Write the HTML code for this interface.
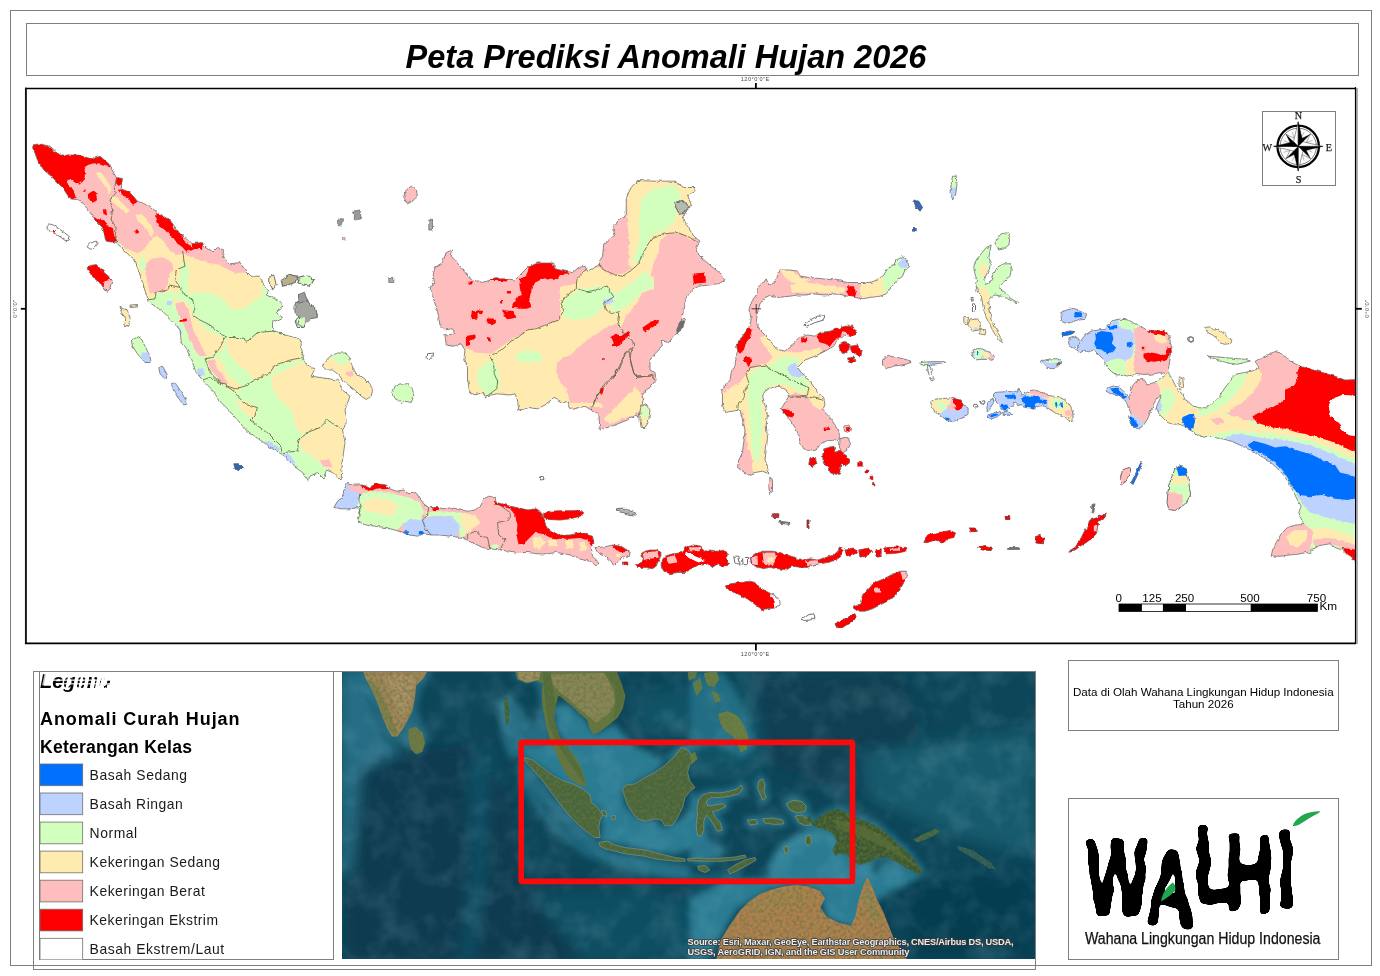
<!DOCTYPE html>
<html lang="id">
<head>
<meta charset="utf-8">
<title>Peta Prediksi Anomali Hujan 2026</title>
<style>
html,body{margin:0;padding:0;background:#fff;}
body{width:1380px;height:976px;overflow:hidden;position:relative;font-family:"Liberation Sans",sans-serif;}
svg{position:absolute;left:0;top:0;display:block;}
text{font-family:"Liberation Sans",sans-serif;fill:#000;}
.serif{font-family:"Liberation Serif",serif;}
.fr{fill:none;stroke:#7f7f7f;stroke-width:1;shape-rendering:crispEdges;}
.lg{font-size:13.9px;fill:#1a1a1a;}
.sb{font-size:11.6px;text-anchor:middle;}
</style>
</head>
<body>
<svg width="1380" height="976" viewBox="0 0 1380 976">

<!-- 10_frames.svg -->
<g id="frames">
<rect x="0" y="0" width="1380" height="976" fill="#fff"/>
<!-- outer frame -->
<rect class="fr" x="10.5" y="10.5" width="1361" height="955"/>
<!-- title box -->
<rect class="fr" x="26.5" y="23.5" width="1332" height="52"/>
<!-- legend + inset frame -->
<rect class="fr" x="33.5" y="671.5" width="1002" height="298" fill="#fff"/>
<rect class="fr" x="39.5" y="671.5" width="294" height="288"/>
<!-- info box -->
<rect class="fr" x="1068.5" y="660.5" width="270" height="70"/>
<!-- logo box -->
<rect class="fr" x="1068.5" y="798.5" width="270" height="161"/>
<!-- map frame -->
<rect x="25.9" y="88" width="1329.6" height="555.2" fill="#fff"/>
<line x1="1357" y1="88" x2="1357" y2="644" stroke="#9a9a9a" stroke-width="1.6"/>
<line x1="25" y1="88.5" x2="1356" y2="88.5" stroke="#000" stroke-width="1.5"/>
<line x1="25.9" y1="87.8" x2="25.9" y2="644" stroke="#111" stroke-width="1.9"/>
<line x1="25" y1="643.4" x2="1356" y2="643.4" stroke="#000" stroke-width="1.6"/>
<line x1="1355.5" y1="87" x2="1355.5" y2="644" stroke="#000" stroke-width="1.2"/>
</g>
<text x="666" y="68" text-anchor="middle" font-size="32.5" font-weight="bold" font-style="italic" id="title">Peta Prediksi Anomali Hujan 2026</text>

<!-- 20_map.svg -->
<filter id="rough" x="0" y="0" width="100%" height="100%" filterUnits="userSpaceOnUse" primitiveUnits="userSpaceOnUse"><feTurbulence type="fractalNoise" baseFrequency="0.22" numOctaves="2" seed="3" result="t"/><feDisplacementMap in="SourceGraphic" in2="t" scale="3.2" xChannelSelector="R" yChannelSelector="G" result="d"/><feOffset in="d" dx="0" dy="0"/></filter>
<g id="mainmap" clip-path="url(#mapclip)"><g filter="url(#rough)">
<clipPath id="mapclip"><rect x="27" y="89" width="1328" height="553.5"/></clipPath>
<clipPath id="c_sumatra"><path d="M33.8 145.0 L38.8 143.8 L50.0 146.2 L60.0 155.0 L77.5 155.0 L92.5 158.8 L100.0 156.2 L108.8 163.8 L116.2 177.5 L122.5 178.8 L121.2 188.8 L130.0 192.5 L137.5 201.2 L150.0 206.2 L158.8 213.8 L170.0 220.0 L180.0 233.8 L192.5 243.8 L202.5 242.5 L203.8 246.2 L212.5 252.5 L217.5 247.5 L223.8 250.0 L222.5 257.5 L230.0 263.8 L240.0 262.5 L245.0 270.0 L251.2 276.2 L260.0 276.2 L263.8 285.0 L268.8 290.0 L266.2 295.0 L277.5 300.0 L283.8 306.2 L276.2 312.5 L282.5 317.5 L272.5 322.5 L272.5 330.0 L285.0 335.0 L300.0 338.8 L303.8 360.0 L307.5 366.2 L315.0 368.8 L311.2 376.2 L337.5 380.0 L342.5 390.0 L350.0 396.2 L345.0 410.0 L347.5 422.5 L342.5 430.0 L345.0 442.5 L342.5 460.0 L341.2 480.0 L332.5 472.5 L326.2 470.0 L323.8 478.8 L317.5 472.5 L310.0 476.2 L307.5 481.2 L302.5 472.5 L293.8 466.2 L285.0 456.2 L272.5 448.8 L260.0 440.0 L246.2 430.0 L237.5 420.0 L227.5 408.8 L217.5 398.8 L211.2 388.8 L202.5 380.0 L196.2 372.5 L192.5 362.5 L187.5 350.0 L181.2 341.2 L180.0 330.0 L172.5 321.2 L162.5 311.2 L147.5 301.2 L147.5 298.8 L142.5 282.5 L137.5 267.5 L135.0 260.0 L128.8 255.0 L120.0 246.2 L116.2 242.5 L106.2 241.2 L102.5 227.5 L95.0 220.0 L87.5 208.8 L78.8 200.0 L70.0 198.8 L62.5 187.5 L52.5 177.5 L43.8 170.0 L37.5 160.0 L33.8 150.0Z"/></clipPath>
<path d="M33.8 145.0 L38.8 143.8 L50.0 146.2 L60.0 155.0 L77.5 155.0 L92.5 158.8 L100.0 156.2 L108.8 163.8 L116.2 177.5 L122.5 178.8 L121.2 188.8 L130.0 192.5 L137.5 201.2 L150.0 206.2 L158.8 213.8 L170.0 220.0 L180.0 233.8 L192.5 243.8 L202.5 242.5 L203.8 246.2 L212.5 252.5 L217.5 247.5 L223.8 250.0 L222.5 257.5 L230.0 263.8 L240.0 262.5 L245.0 270.0 L251.2 276.2 L260.0 276.2 L263.8 285.0 L268.8 290.0 L266.2 295.0 L277.5 300.0 L283.8 306.2 L276.2 312.5 L282.5 317.5 L272.5 322.5 L272.5 330.0 L285.0 335.0 L300.0 338.8 L303.8 360.0 L307.5 366.2 L315.0 368.8 L311.2 376.2 L337.5 380.0 L342.5 390.0 L350.0 396.2 L345.0 410.0 L347.5 422.5 L342.5 430.0 L345.0 442.5 L342.5 460.0 L341.2 480.0 L332.5 472.5 L326.2 470.0 L323.8 478.8 L317.5 472.5 L310.0 476.2 L307.5 481.2 L302.5 472.5 L293.8 466.2 L285.0 456.2 L272.5 448.8 L260.0 440.0 L246.2 430.0 L237.5 420.0 L227.5 408.8 L217.5 398.8 L211.2 388.8 L202.5 380.0 L196.2 372.5 L192.5 362.5 L187.5 350.0 L181.2 341.2 L180.0 330.0 L172.5 321.2 L162.5 311.2 L147.5 301.2 L147.5 298.8 L142.5 282.5 L137.5 267.5 L135.0 260.0 L128.8 255.0 L120.0 246.2 L116.2 242.5 L106.2 241.2 L102.5 227.5 L95.0 220.0 L87.5 208.8 L78.8 200.0 L70.0 198.8 L62.5 187.5 L52.5 177.5 L43.8 170.0 L37.5 160.0 L33.8 150.0Z" fill="#D3FFBE"/>
<g clip-path="url(#c_sumatra)">
<polygon points="133.4,255.1 139.3,250.0 146.8,243.4 155.1,236.7 161.8,240.0 166.8,246.7 171.8,253.4 178.5,256.7 182.7,260.1 183.5,265.9 175.2,268.4 174.3,280.1 167.6,283.4 170.2,292.6 158.5,293.5 153.4,296.8 148.4,300.2 145.1,293.5 141.8,285.1 138.4,275.1 135.9,263.4" fill="#FFEBAF"/>
<polygon points="186.9,280.1 190.2,270.1 196.9,265.9 206.9,267.6 216.9,266.7 226.9,269.3 233.6,273.4 238.6,280.1 245.3,286.8 255.3,291.8 263.7,296.0 257.0,300.2 250.3,303.5 243.6,308.5 233.6,310.2 226.9,303.5 220.3,296.8 210.2,293.5 200.2,288.5 193.5,285.1" fill="#FFEBAF"/>
<polygon points="173.5,296.8 180.2,300.2 188.5,303.5 193.5,313.5 200.2,323.5 206.9,330.2 213.6,333.6 223.6,336.9 224.4,346.9 216.9,353.6 206.9,358.6 200.2,353.6 195.2,346.9 190.2,338.6 186.9,330.2 181.8,320.2 176.8,310.2 173.5,303.5" fill="#FFEBAF"/>
<polygon points="228.6,336.9 238.6,338.6 247.0,341.9 258.7,333.6 272.0,331.9 283.7,336.9 298.8,340.2 302.1,356.9 290.4,360.3 277.1,363.6 273.7,372.0 267.0,373.6 260.3,367.0 250.3,363.6 243.6,356.9 240.3,350.3 232.0,346.9" fill="#FFEBAF"/>
<polygon points="206.9,360.3 216.9,356.9 223.6,363.6 226.9,373.6 233.6,380.3 243.6,387.0 233.6,392.9 223.6,385.3 215.2,377.0 208.6,368.6" fill="#FFEBAF"/>
<polygon points="225.0,337.5 245.0,342.5 260.0,332.5 282.5,335.0 300.0,340.0 302.5,360.0 275.0,365.0 270.0,375.0 255.0,380.0 245.0,370.0 235.0,362.5 227.5,350.0" fill="#FFEBAF"/>
<polygon points="272.5,375.0 285.0,370.0 302.5,362.5 315.0,370.0 337.5,380.0 350.0,397.5 345.0,410.0 347.5,422.5 342.5,430.0 327.5,420.0 317.5,430.0 302.5,435.0 295.0,425.0 292.5,410.0 280.0,400.0 272.5,387.5" fill="#FFEBAF"/>
<polygon points="297.5,440.0 312.5,432.5 327.5,422.5 342.5,430.0 345.0,442.5 342.5,460.0 341.2,480.0 332.5,472.5 325.0,467.5 317.5,460.0 310.0,455.0 302.5,450.0" fill="#FFEBAF"/>
<polygon points="237.5,400.0 250.0,402.5 257.5,410.0 255.0,420.0 245.0,412.5 237.5,405.0" fill="#FFEBAF"/>
<polygon points="66.6,129.8 216.9,213.3 203.6,243.4 213.6,263.4 226.9,267.6 233.6,265.9 243.6,265.9 247.0,271.8 240.3,269.3 232.0,268.4 225.3,270.9 216.9,267.6 208.6,265.9 200.2,262.6 193.5,263.4 186.9,261.7 182.7,258.4 176.8,255.1 170.2,251.7 166.8,245.9 162.6,240.0 156.8,235.8 150.1,241.7 145.1,248.4 139.3,252.5 133.4,255.1 125.1,248.4 116.7,240.0 49.9,230.0" fill="#FFBEBE"/>
<polygon points="146.8,263.4 153.4,258.4 163.5,259.2 170.2,263.4 173.5,273.4 171.8,281.8 166.8,283.4 163.5,288.5 156.8,285.1 150.1,278.4 145.9,270.9" fill="#FFBEBE"/>
<polygon points="175.2,303.5 183.5,301.8 188.5,310.2 191.0,320.2 193.5,330.2 198.5,340.2 203.6,350.3 206.9,356.9 200.2,356.9 195.2,350.3 191.0,341.9 186.9,331.9 181.8,320.2 176.8,311.8" fill="#FFBEBE"/>
<polygon points="206.9,360.3 215.2,359.4 216.9,368.6 223.6,377.0 228.6,383.7 223.6,385.3 216.9,377.0 210.2,368.6" fill="#FFBEBE"/>
<polygon points="320.0,460.0 330.0,460.0 332.5,467.5 322.5,466.2" fill="#FFBEBE"/>
<polygon points="166.8,301.0 171.0,301.0 171.0,305.2 166.8,305.2" fill="#BED2FF"/>
<polygon points="174.3,323.5 178.5,325.2 182.7,333.6 180.2,334.4 176.0,328.5" fill="#BED2FF"/>
<polygon points="196.9,368.6 204.4,368.6 204.4,376.1 198.5,377.0" fill="#BED2FF"/>
<polygon points="263.8,441.2 272.5,442.5 280.0,448.8 277.5,452.5 270.0,448.8" fill="#BED2FF"/>
<polygon points="282.5,452.5 290.0,455.0 295.0,462.5 292.5,466.2 286.2,460.0" fill="#BED2FF"/>
<polygon points="121.2,246.9 129.6,250.3 139.6,253.6 145.4,246.9 152.9,238.6 158.0,236.9 164.6,243.6 169.6,250.3 176.3,255.3 182.2,253.6 193.0,256.9 206.4,262.0 218.1,263.6 228.1,268.6 243.1,262.0 263.2,272.0 263.2,292.9 126.2,292.9 132.9,263.6 126.2,253.6" fill="#FFEBAF"/>
<polygon points="182.2,253.6 193.0,245.2 203.1,241.9 209.7,249.4 213.1,246.1 225.6,246.9 225.6,258.6 232.3,262.8 244.8,262.0 248.1,272.8 234.8,272.8 228.1,269.5 218.1,264.5 206.4,262.8 193.0,257.8" fill="#FFBEBE"/>
<polygon points="146.3,263.6 152.9,258.6 163.0,256.9 171.3,262.0 173.8,268.6 169.6,275.3 168.0,283.7 163.0,292.9 149.6,292.9 147.1,280.3 145.4,272.0" fill="#FFBEBE"/>
<polygon points="137.9,258.6 142.9,256.9 146.3,263.6 145.4,272.0 141.2,270.3 138.7,263.6" fill="#D3FFBE"/>
<polygon points="181.3,263.6 187.2,262.0 188.9,272.0 188.0,292.9 179.7,292.9 178.8,280.3 180.5,270.3" fill="#D3FFBE"/>
<polygon points="97.0,172.6 100.3,171.8 104.5,176.8 108.7,183.4 111.2,190.1 109.5,194.3 106.2,188.5 102.0,181.8 97.8,176.8" fill="#FFEBAF"/>
<polygon points="110.3,196.8 114.5,196.0 119.5,200.2 124.5,205.2 129.6,211.0 126.2,213.5 120.4,208.5 114.5,203.5 111.2,201.0" fill="#FFEBAF"/>
<polygon points="135.4,215.2 141.2,214.3 146.3,218.5 151.3,225.2 153.8,231.9 151.3,236.9 147.9,231.9 142.9,225.2 137.9,221.0" fill="#FFEBAF"/>
<polygon points="179.3,319.4 186.9,318.5 186.9,321.0 179.8,321.9" fill="#FF0000"/>
<polygon points="29.3,143.4 37.7,143.4 47.7,145.0 54.4,150.9 61.1,154.2 69.4,155.9 76.1,154.2 84.5,155.1 92.8,156.7 97.8,154.2 103.7,158.4 108.7,162.6 112.9,169.3 106.2,165.4 99.5,163.4 92.8,163.4 87.8,165.1 84.5,168.4 85.3,175.1 83.6,180.1 79.4,183.4 74.4,182.6 71.1,179.3 67.8,178.4 66.9,182.6 71.1,186.8 74.4,191.8 75.6,197.6 71.1,200.2 66.1,196.0 61.9,189.3 56.1,182.6 49.4,175.9 42.7,170.1 37.7,163.4 32.7,155.1" fill="#FF0000"/>
<polygon points="116.2,176.8 121.5,178.9 122.4,183.4 118.7,186.0 116.2,183.4" fill="#FF0000"/>
<polygon points="117.9,189.8 124.5,189.3 130.7,192.1 134.9,196.5 137.6,201.8 132.9,204.7 129.6,201.0 126.2,196.8 121.2,194.3" fill="#FF0000"/>
<polygon points="156.3,214.0 163.0,214.0 168.3,217.4 171.6,222.4 173.3,228.2 178.3,229.9 181.7,234.9 184.2,240.7 189.2,244.9 193.0,246.6 193.0,243.2 199.7,241.4 203.4,243.6 201.7,248.9 194.7,248.9 191.4,250.6 186.3,251.4 182.2,246.9 177.2,243.6 173.8,238.6 169.6,235.2 166.3,230.2 159.6,226.9 156.3,221.9" fill="#FF0000"/>
<polygon points="93.6,216.9 99.5,219.4 104.5,220.2 107.0,226.0 112.9,228.5 114.5,236.9 117.5,241.6 111.2,243.2 105.8,241.6 103.3,235.2 102.5,228.5 99.2,223.5 94.5,221.0" fill="#FF0000"/>
<polygon points="88.6,193.5 92.8,191.0 96.2,193.5 97.0,200.2 92.8,202.7 89.5,200.2" fill="#FF0000"/>
<polygon points="102.8,209.3 106.2,209.3 107.0,215.2 103.7,215.2" fill="#FF0000"/>
<polygon points="135.4,229.4 137.9,229.4 137.9,233.6 135.4,233.6" fill="#FF0000"/>
<polygon points="82.8,189.3 85.3,188.8 85.6,191.5 83.1,191.8" fill="#FF0000"/>
</g>
<polyline points="116.2,178.8 115.0,186.2 116.2,192.5 110.0,200.0 112.5,210.0 111.2,220.0 116.2,227.5 115.0,237.5 118.8,243.8" fill="none" stroke="#55603e" stroke-width="0.8"/>
<polyline points="182.5,250.0 183.8,260.0 185.0,266.2 176.2,270.0 175.0,280.0 180.0,287.5 170.0,285.0 167.5,290.0 156.2,292.5 155.0,298.8 147.5,300.0" fill="none" stroke="#55603e" stroke-width="0.8"/>
<polyline points="180.0,287.5 185.0,295.0 192.5,300.0 195.0,310.0 192.5,315.0 200.0,320.0 210.0,325.0 222.5,335.0 227.5,337.5 240.0,337.5 247.5,341.2 257.5,332.5 272.5,331.2 285.0,335.0" fill="none" stroke="#55603e" stroke-width="0.8"/>
<polyline points="225.0,337.5 220.0,347.5 212.5,357.5 205.0,358.8 210.0,372.5 217.5,380.0 227.5,386.2 235.0,388.8 245.0,386.2 255.0,380.0 265.0,375.0 270.0,372.5 275.0,365.0 290.0,360.0 302.5,357.5" fill="none" stroke="#55603e" stroke-width="0.8"/>
<polyline points="202.5,380.0 210.0,377.5 220.0,382.5 232.5,390.0 240.0,398.8 247.5,405.0 257.5,407.5 255.0,415.0 250.0,420.0 260.0,427.5 270.0,435.0 280.0,445.0 282.5,452.5 297.5,451.2 298.8,440.0 307.5,432.5 320.0,427.5 327.5,420.0 335.0,425.0 342.5,430.0" fill="none" stroke="#55603e" stroke-width="0.8"/>
<path d="M33.8 145.0 L38.8 143.8 L50.0 146.2 L60.0 155.0 L77.5 155.0 L92.5 158.8 L100.0 156.2 L108.8 163.8 L116.2 177.5 L122.5 178.8 L121.2 188.8 L130.0 192.5 L137.5 201.2 L150.0 206.2 L158.8 213.8 L170.0 220.0 L180.0 233.8 L192.5 243.8 L202.5 242.5 L203.8 246.2 L212.5 252.5 L217.5 247.5 L223.8 250.0 L222.5 257.5 L230.0 263.8 L240.0 262.5 L245.0 270.0 L251.2 276.2 L260.0 276.2 L263.8 285.0 L268.8 290.0 L266.2 295.0 L277.5 300.0 L283.8 306.2 L276.2 312.5 L282.5 317.5 L272.5 322.5 L272.5 330.0 L285.0 335.0 L300.0 338.8 L303.8 360.0 L307.5 366.2 L315.0 368.8 L311.2 376.2 L337.5 380.0 L342.5 390.0 L350.0 396.2 L345.0 410.0 L347.5 422.5 L342.5 430.0 L345.0 442.5 L342.5 460.0 L341.2 480.0 L332.5 472.5 L326.2 470.0 L323.8 478.8 L317.5 472.5 L310.0 476.2 L307.5 481.2 L302.5 472.5 L293.8 466.2 L285.0 456.2 L272.5 448.8 L260.0 440.0 L246.2 430.0 L237.5 420.0 L227.5 408.8 L217.5 398.8 L211.2 388.8 L202.5 380.0 L196.2 372.5 L192.5 362.5 L187.5 350.0 L181.2 341.2 L180.0 330.0 L172.5 321.2 L162.5 311.2 L147.5 301.2 L147.5 298.8 L142.5 282.5 L137.5 267.5 L135.0 260.0 L128.8 255.0 L120.0 246.2 L116.2 242.5 L106.2 241.2 L102.5 227.5 L95.0 220.0 L87.5 208.8 L78.8 200.0 L70.0 198.8 L62.5 187.5 L52.5 177.5 L43.8 170.0 L37.5 160.0 L33.8 150.0Z" fill="none" stroke="#6E6E6E" stroke-width="0.80" stroke-linejoin="round"/>
<clipPath id="c_borneo"><path d="M452.5 250.0 L451.2 256.2 L461.2 267.5 L470.0 278.8 L482.5 282.5 L495.0 278.8 L505.0 278.8 L515.0 280.0 L527.5 267.5 L537.5 263.0 L553.8 263.0 L555.0 268.8 L565.0 271.2 L572.5 272.5 L578.8 267.5 L585.0 266.2 L587.5 271.2 L598.8 265.0 L602.5 256.2 L603.8 243.8 L615.0 235.0 L612.5 227.5 L618.8 220.0 L626.2 216.2 L626.2 197.5 L631.2 187.5 L637.5 180.5 L655.0 181.2 L675.0 181.2 L683.8 187.5 L695.0 187.5 L695.0 187.5 L695.0 191.2 L687.5 195.0 L691.2 205.0 L687.5 208.8 L682.5 217.5 L687.5 226.2 L693.8 236.2 L700.0 241.2 L696.2 246.2 L698.8 255.0 L711.2 266.2 L722.5 275.0 L725.0 280.0 L718.8 283.8 L708.8 285.0 L698.8 286.2 L692.5 290.0 L687.5 295.0 L683.8 305.0 L682.5 317.5 L685.0 320.0 L682.5 328.8 L675.0 335.0 L668.8 342.5 L661.2 340.0 L662.5 346.2 L655.0 353.8 L650.0 360.0 L650.0 370.0 L655.0 372.5 L656.2 380.0 L650.0 387.5 L642.5 392.5 L643.8 398.8 L641.2 407.5 L638.8 417.5 L636.2 413.8 L627.5 420.0 L615.0 425.0 L600.0 430.0 L598.8 413.8 L591.2 410.0 L585.0 406.2 L578.8 407.5 L571.2 410.0 L567.5 401.2 L562.5 402.5 L553.8 397.5 L545.0 405.0 L537.5 408.8 L528.8 407.5 L518.8 411.2 L517.5 400.0 L515.0 393.8 L510.0 395.0 L497.5 393.8 L485.0 396.2 L482.5 392.5 L475.0 395.0 L470.0 392.5 L467.5 380.0 L467.5 367.5 L463.8 360.0 L465.0 350.0 L461.2 343.8 L453.8 346.2 L446.2 345.0 L445.0 335.0 L455.0 333.8 L452.5 328.8 L443.8 330.0 L440.0 325.0 L437.5 311.2 L433.8 300.0 L432.5 292.5 L428.8 287.5 L433.8 285.0 L432.5 277.5 L435.0 267.5 L442.5 262.5 L446.2 252.5Z"/></clipPath>
<path d="M452.5 250.0 L451.2 256.2 L461.2 267.5 L470.0 278.8 L482.5 282.5 L495.0 278.8 L505.0 278.8 L515.0 280.0 L527.5 267.5 L537.5 263.0 L553.8 263.0 L555.0 268.8 L565.0 271.2 L572.5 272.5 L578.8 267.5 L585.0 266.2 L587.5 271.2 L598.8 265.0 L602.5 256.2 L603.8 243.8 L615.0 235.0 L612.5 227.5 L618.8 220.0 L626.2 216.2 L626.2 197.5 L631.2 187.5 L637.5 180.5 L655.0 181.2 L675.0 181.2 L683.8 187.5 L695.0 187.5 L695.0 187.5 L695.0 191.2 L687.5 195.0 L691.2 205.0 L687.5 208.8 L682.5 217.5 L687.5 226.2 L693.8 236.2 L700.0 241.2 L696.2 246.2 L698.8 255.0 L711.2 266.2 L722.5 275.0 L725.0 280.0 L718.8 283.8 L708.8 285.0 L698.8 286.2 L692.5 290.0 L687.5 295.0 L683.8 305.0 L682.5 317.5 L685.0 320.0 L682.5 328.8 L675.0 335.0 L668.8 342.5 L661.2 340.0 L662.5 346.2 L655.0 353.8 L650.0 360.0 L650.0 370.0 L655.0 372.5 L656.2 380.0 L650.0 387.5 L642.5 392.5 L643.8 398.8 L641.2 407.5 L638.8 417.5 L636.2 413.8 L627.5 420.0 L615.0 425.0 L600.0 430.0 L598.8 413.8 L591.2 410.0 L585.0 406.2 L578.8 407.5 L571.2 410.0 L567.5 401.2 L562.5 402.5 L553.8 397.5 L545.0 405.0 L537.5 408.8 L528.8 407.5 L518.8 411.2 L517.5 400.0 L515.0 393.8 L510.0 395.0 L497.5 393.8 L485.0 396.2 L482.5 392.5 L475.0 395.0 L470.0 392.5 L467.5 380.0 L467.5 367.5 L463.8 360.0 L465.0 350.0 L461.2 343.8 L453.8 346.2 L446.2 345.0 L445.0 335.0 L455.0 333.8 L452.5 328.8 L443.8 330.0 L440.0 325.0 L437.5 311.2 L433.8 300.0 L432.5 292.5 L428.8 287.5 L433.8 285.0 L432.5 277.5 L435.0 267.5 L442.5 262.5 L446.2 252.5Z" fill="#FFBEBE"/>
<g clip-path="url(#c_borneo)">
<polygon points="627.5,202.5 637.5,177.5 675.0,178.8 715.0,195.0 715.0,240.0 695.0,237.5 690.0,240.0 680.0,230.0 665.0,232.5 652.5,237.5 647.5,250.0 642.5,262.5 635.0,270.0 627.5,265.0 630.0,245.0 627.5,225.0" fill="#FFEBAF"/>
<polygon points="642.5,197.5 655.0,187.5 672.5,185.0 680.0,195.0 677.5,205.0 675.0,220.0 660.0,230.0 650.0,235.0 642.5,237.5 637.5,225.0 640.0,210.0" fill="#D3FFBE"/>
<polygon points="587.0,268.4 577.0,278.4 576.2,288.4 565.3,296.8 561.1,303.5 563.6,310.2 558.6,320.2 548.6,323.5 536.9,328.5 526.9,330.2 518.5,336.9 510.2,341.9 503.5,348.6 491.8,355.2 483.5,353.6 473.4,355.2 465.1,353.6 453.4,346.9 453.4,407.0 603.7,407.0 600.4,402.9 570.3,402.9 567.0,390.3 560.3,382.0 556.1,373.6 557.0,363.6 563.6,356.9 570.3,355.2 578.7,346.9 587.0,340.2 597.1,333.5 607.1,326.9 617.1,323.5 617.9,320.2 618.8,311.8 627.1,303.5 637.1,295.1 653.8,288.4 653.8,275.9 637.1,280.1 628.8,283.4 620.4,286.8 612.1,285.4 603.7,283.8 595.4,279.3 590.4,273.4" fill="#FFEBAF"/>
<polygon points="562.0,301.8 570.3,295.1 578.7,290.1 588.7,291.8 600.4,288.4 608.7,288.4 612.1,296.8 603.7,306.8 597.1,310.2 587.0,318.5 577.0,323.5 567.0,320.2 563.6,311.8" fill="#D3FFBE"/>
<polygon points="612.1,296.8 620.4,290.1 633.8,285.1 653.8,279.3 653.8,287.6 637.1,293.4 627.1,301.8 618.8,310.2 612.1,310.2 605.4,306.8" fill="#D3FFBE"/>
<polygon points="510.2,353.6 520.2,351.9 523.6,356.9 513.5,360.3" fill="#D3FFBE"/>
<polygon points="528.6,351.9 540.3,351.9 541.9,358.6 530.2,358.6" fill="#D3FFBE"/>
<polygon points="478.5,366.9 490.2,361.9 495.2,366.9 496.8,382.0 493.5,390.3 483.5,390.3 478.5,382.0" fill="#D3FFBE"/>
<polygon points="603.7,298.5 612.1,297.6 613.8,301.0 607.1,304.3 603.7,302.6" fill="#BED2FF"/>
<polygon points="626.8,193.4 635.2,180.0 676.9,180.0 697.0,186.7 693.6,203.4 688.6,220.1 695.3,234.3 686.9,235.5 676.9,233.0 668.6,233.8 660.2,240.2 658.5,253.5 653.5,263.5 650.2,276.9 643.5,290.3 636.8,303.6 626.8,315.3 618.5,332.9 560.0,332.9 560.0,286.9 576.7,283.6 586.7,270.2 598.4,266.9 610.1,275.2 623.5,273.6 631.8,268.5 628.5,253.5 629.3,236.8 630.2,220.1 627.6,206.7" fill="#FFEBAF"/>
<polygon points="641.8,198.4 653.5,188.4 675.2,185.0 680.3,195.1 676.9,208.4 675.2,220.1 666.9,228.5 653.5,233.5 646.9,243.5 643.5,256.9 638.5,263.5 633.5,260.2 636.8,248.5 640.2,236.8 638.5,220.1" fill="#D3FFBE"/>
<polygon points="576.7,290.3 593.4,286.9 608.4,286.9 615.1,293.6 626.8,286.9 638.5,276.9 646.9,270.2 650.2,276.9 643.5,290.3 633.5,300.3 623.5,308.6 613.4,313.6 610.1,303.6 603.4,302.0 601.8,308.6 593.4,317.0 576.7,320.3 563.3,317.0 563.3,300.3" fill="#D3FFBE"/>
<polygon points="602.6,300.3 611.8,297.8 613.4,302.0 605.1,305.3" fill="#BED2FF"/>
<polygon points="460.0,345.0 475.0,352.5 490.0,353.8 500.0,347.5 515.0,337.5 530.0,330.0 545.0,325.0 560.0,322.5 565.0,330.0 580.0,335.0 590.0,330.0 605.0,325.0 615.0,322.5 617.5,332.5 605.0,337.5 590.0,342.5 585.0,355.0 570.0,360.0 560.0,362.5 557.5,372.5 565.0,377.5 572.5,385.0 570.0,395.0 565.0,405.0 553.8,398.8 545.0,407.5 537.5,411.2 528.8,410.0 515.0,415.0 515.0,396.2 497.5,396.2 485.0,398.8 475.0,397.5 467.5,395.0 465.0,380.0 465.0,367.5 461.2,360.0" fill="#FFEBAF"/>
<polygon points="477.5,372.5 485.0,362.5 492.5,360.0 497.5,367.5 500.0,382.5 497.5,390.0 487.5,395.0 477.5,385.0" fill="#D3FFBE"/>
<polygon points="515.0,355.0 527.5,350.0 540.0,352.5 542.5,360.0 530.0,362.5 517.5,361.2" fill="#D3FFBE"/>
<polygon points="605.0,417.5 615.0,407.5 625.0,397.5 635.0,387.5 640.0,392.5 642.5,400.0 640.0,410.0 635.0,415.0 625.0,417.5 615.0,422.5 607.5,422.5" fill="#FFEBAF"/>
<polygon points="557.0,363.6 563.6,356.9 570.3,355.2 578.7,346.9 587.0,340.2 597.1,333.5 607.1,326.9 617.1,323.5 620.4,330.2 628.8,340.2 632.1,348.6 628.8,356.9 625.4,366.9 620.4,373.6 612.1,382.0 603.7,390.3 600.4,402.9 570.3,402.9 567.0,390.3 560.3,382.0 556.1,373.6" fill="#FFBEBE"/>
<polygon points="528.6,267.6 533.6,263.9 540.3,263.0 552.3,263.0 554.0,266.4 559.0,268.9 567.3,270.6 568.2,273.4 560.3,274.2 558.6,277.6 553.6,280.1 546.9,279.3 540.3,280.1 535.2,282.6 531.9,288.4 530.2,295.1 529.4,300.1 531.4,307.1 526.9,308.8 520.2,308.8 513.2,308.0 512.4,304.3 515.2,300.1 516.9,296.8 521.9,295.1 520.2,290.1 519.4,283.4 520.2,278.4 525.2,276.7 527.7,271.7" fill="#FF0000"/>
<polygon points="489.3,279.3 498.5,277.9 507.2,279.3 507.2,281.6 498.5,281.1 490.2,281.1" fill="#FF0000"/>
<polygon points="468.4,281.8 472.6,280.9 472.6,284.3 468.8,284.8" fill="#FF0000"/>
<polygon points="471.8,311.8 476.8,310.2 483.5,311.0 481.8,314.3 477.6,313.5 477.6,318.5 473.4,319.3 470.9,316.8" fill="#FF0000"/>
<polygon points="486.8,318.5 493.5,318.5 496.8,322.7 491.8,325.2 486.8,324.3" fill="#FF0000"/>
<polygon points="503.5,310.2 513.5,311.0 515.2,317.7 508.5,319.3 503.5,316.0" fill="#FF0000"/>
<polygon points="465.9,336.0 475.1,334.4 476.0,338.5 470.1,340.2 470.1,345.2 465.9,346.1" fill="#FF0000"/>
<polygon points="486.8,336.9 490.2,337.7 491.0,341.9 487.6,341.1" fill="#FF0000"/>
<polygon points="506.9,290.9 511.0,290.9 511.0,293.4 506.9,293.4" fill="#FF0000"/>
<polygon points="500.2,301.0 502.2,301.0 502.2,303.5 500.2,303.5" fill="#FF0000"/>
<polygon points="611.2,336.0 617.1,334.4 622.1,335.2 628.8,331.0 629.6,335.2 624.6,338.5 622.1,343.6 617.1,346.9 611.2,346.1 613.8,341.9 612.1,339.4" fill="#FF0000"/>
<polygon points="602.1,358.3 604.6,358.3 604.6,359.9 602.1,359.9" fill="#FF0000"/>
<polygon points="599.6,391.2 602.1,390.3 602.1,392.8 599.6,393.3" fill="#FF0000"/>
<polygon points="692.5,273.8 705.0,272.5 706.2,282.5 693.8,283.8" fill="#FF0000"/>
<polygon points="642.5,327.5 650.0,322.5 657.5,318.8 658.8,322.5 652.5,327.5 645.0,332.5" fill="#FF0000"/>
<polygon points="601.2,388.8 603.8,388.8 602.5,393.8 600.0,393.8" fill="#FF0000"/>
<polygon points="681.2,318.8 686.2,322.5 685.0,332.5 677.5,335.0 676.2,330.0" fill="#6E6E6E"/>
</g>
<polyline points="587.0,268.4 577.0,278.4 576.2,288.4 565.3,296.8 561.1,303.5 563.6,310.2 558.6,320.2 548.6,323.5 536.9,328.5 526.9,330.2 518.5,336.9 510.2,341.9 503.5,348.6 491.8,355.2 490.2,356.9 493.5,363.6 494.3,373.6 497.7,382.0 496.8,388.7 490.2,393.7 486.0,397.0" fill="none" stroke="#55603e" stroke-width="0.8"/>
<polyline points="577.0,288.4 587.0,291.8 595.4,290.1 607.1,285.9 610.4,291.8 613.8,296.8 603.7,303.5 605.4,310.2 612.1,313.5 618.8,311.8 617.9,320.2 620.4,328.5 625.4,335.2 632.1,340.2 633.8,346.9 625.4,353.6 620.4,366.9 612.1,378.6 602.1,388.7 595.4,398.7 593.7,404.5" fill="none" stroke="#55603e" stroke-width="0.8"/>
<polyline points="628.8,348.6 630.5,361.9 633.8,373.6 637.1,377.0 653.8,376.1" fill="none" stroke="#55603e" stroke-width="0.8"/>
<polyline points="598.8,265.0 605.0,270.0 615.0,275.0 622.5,276.2 630.0,271.2 637.5,265.0 642.5,255.0 647.5,245.0 652.5,237.5 665.0,233.8 677.5,232.5 690.0,237.5 697.5,242.5" fill="none" stroke="#55603e" stroke-width="0.8"/>
<polyline points="625.0,352.5 620.0,365.0 615.0,375.0 605.0,382.5 597.5,395.0 591.2,410.0" fill="none" stroke="#55603e" stroke-width="0.8"/>
<polyline points="632.5,347.5 630.0,357.5 633.8,372.5 637.5,377.5 650.0,375.0 656.2,380.0" fill="none" stroke="#55603e" stroke-width="0.8"/>
<path d="M452.5 250.0 L451.2 256.2 L461.2 267.5 L470.0 278.8 L482.5 282.5 L495.0 278.8 L505.0 278.8 L515.0 280.0 L527.5 267.5 L537.5 263.0 L553.8 263.0 L555.0 268.8 L565.0 271.2 L572.5 272.5 L578.8 267.5 L585.0 266.2 L587.5 271.2 L598.8 265.0 L602.5 256.2 L603.8 243.8 L615.0 235.0 L612.5 227.5 L618.8 220.0 L626.2 216.2 L626.2 197.5 L631.2 187.5 L637.5 180.5 L655.0 181.2 L675.0 181.2 L683.8 187.5 L695.0 187.5 L695.0 187.5 L695.0 191.2 L687.5 195.0 L691.2 205.0 L687.5 208.8 L682.5 217.5 L687.5 226.2 L693.8 236.2 L700.0 241.2 L696.2 246.2 L698.8 255.0 L711.2 266.2 L722.5 275.0 L725.0 280.0 L718.8 283.8 L708.8 285.0 L698.8 286.2 L692.5 290.0 L687.5 295.0 L683.8 305.0 L682.5 317.5 L685.0 320.0 L682.5 328.8 L675.0 335.0 L668.8 342.5 L661.2 340.0 L662.5 346.2 L655.0 353.8 L650.0 360.0 L650.0 370.0 L655.0 372.5 L656.2 380.0 L650.0 387.5 L642.5 392.5 L643.8 398.8 L641.2 407.5 L638.8 417.5 L636.2 413.8 L627.5 420.0 L615.0 425.0 L600.0 430.0 L598.8 413.8 L591.2 410.0 L585.0 406.2 L578.8 407.5 L571.2 410.0 L567.5 401.2 L562.5 402.5 L553.8 397.5 L545.0 405.0 L537.5 408.8 L528.8 407.5 L518.8 411.2 L517.5 400.0 L515.0 393.8 L510.0 395.0 L497.5 393.8 L485.0 396.2 L482.5 392.5 L475.0 395.0 L470.0 392.5 L467.5 380.0 L467.5 367.5 L463.8 360.0 L465.0 350.0 L461.2 343.8 L453.8 346.2 L446.2 345.0 L445.0 335.0 L455.0 333.8 L452.5 328.8 L443.8 330.0 L440.0 325.0 L437.5 311.2 L433.8 300.0 L432.5 292.5 L428.8 287.5 L433.8 285.0 L432.5 277.5 L435.0 267.5 L442.5 262.5 L446.2 252.5Z" fill="none" stroke="#6E6E6E" stroke-width="0.80" stroke-linejoin="round"/>
<clipPath id="c_sulawesi"><path d="M748.8 310.0 L752.5 300.0 L756.2 295.0 L757.5 287.5 L763.8 282.5 L766.2 278.8 L768.8 285.0 L775.0 282.5 L777.5 276.2 L780.0 270.0 L790.0 270.0 L797.5 271.2 L800.0 276.2 L810.0 277.5 L822.5 278.8 L835.0 280.0 L847.5 282.5 L860.0 282.5 L870.0 282.5 L877.5 280.0 L883.8 275.0 L887.5 268.8 L893.8 265.0 L896.2 260.0 L903.8 256.2 L907.5 262.5 L910.0 266.2 L905.0 270.0 L902.5 276.2 L896.2 281.2 L891.2 287.5 L886.2 293.8 L880.0 296.2 L870.0 297.5 L862.5 298.8 L855.0 297.5 L847.5 296.2 L837.5 293.8 L825.0 295.0 L812.5 293.8 L805.0 295.0 L797.5 295.0 L790.0 296.2 L777.5 297.5 L770.0 295.0 L763.8 298.8 L760.0 303.8 L757.5 312.5 L756.2 322.5 L760.0 330.0 L765.0 335.0 L768.8 338.8 L772.5 343.8 L776.2 348.8 L785.0 351.2 L790.0 346.2 L795.0 342.5 L800.0 337.5 L807.5 335.0 L815.0 336.2 L820.0 332.5 L830.0 331.2 L837.5 328.8 L845.0 326.2 L852.5 326.2 L856.2 330.0 L855.0 335.0 L850.0 336.2 L843.8 335.0 L837.5 340.0 L833.8 346.2 L825.0 351.2 L815.0 356.2 L805.0 360.0 L797.5 367.5 L801.2 372.5 L807.5 377.5 L812.5 385.0 L817.5 392.5 L823.8 397.5 L825.0 405.0 L822.5 410.0 L830.0 417.5 L835.0 425.0 L838.8 432.5 L840.0 438.8 L835.0 440.0 L825.0 441.2 L818.8 445.0 L816.2 450.0 L810.0 451.2 L803.8 448.8 L800.0 442.5 L798.8 435.0 L795.0 427.5 L790.0 420.0 L785.0 413.8 L781.2 408.8 L785.0 402.5 L788.8 396.2 L786.2 390.0 L780.0 386.2 L772.5 387.5 L765.0 391.2 L762.5 396.2 L765.0 405.0 L767.5 415.0 L766.2 425.0 L767.5 437.5 L766.2 450.0 L765.0 460.0 L767.5 467.5 L768.8 473.8 L762.5 471.2 L755.0 472.5 L748.8 475.0 L742.5 471.2 L737.5 467.5 L738.8 460.0 L742.5 452.5 L743.8 442.5 L745.0 430.0 L742.5 420.0 L740.0 410.0 L732.5 411.2 L725.0 412.5 L722.5 405.0 L722.5 395.0 L721.2 388.8 L726.2 385.0 L730.0 380.0 L731.2 372.5 L735.0 365.0 L736.2 357.5 L737.5 350.0 L736.2 345.0 L740.0 340.0 L745.0 332.5 L748.8 327.5 L751.2 320.0 L750.0 312.5Z"/></clipPath>
<path d="M748.8 310.0 L752.5 300.0 L756.2 295.0 L757.5 287.5 L763.8 282.5 L766.2 278.8 L768.8 285.0 L775.0 282.5 L777.5 276.2 L780.0 270.0 L790.0 270.0 L797.5 271.2 L800.0 276.2 L810.0 277.5 L822.5 278.8 L835.0 280.0 L847.5 282.5 L860.0 282.5 L870.0 282.5 L877.5 280.0 L883.8 275.0 L887.5 268.8 L893.8 265.0 L896.2 260.0 L903.8 256.2 L907.5 262.5 L910.0 266.2 L905.0 270.0 L902.5 276.2 L896.2 281.2 L891.2 287.5 L886.2 293.8 L880.0 296.2 L870.0 297.5 L862.5 298.8 L855.0 297.5 L847.5 296.2 L837.5 293.8 L825.0 295.0 L812.5 293.8 L805.0 295.0 L797.5 295.0 L790.0 296.2 L777.5 297.5 L770.0 295.0 L763.8 298.8 L760.0 303.8 L757.5 312.5 L756.2 322.5 L760.0 330.0 L765.0 335.0 L768.8 338.8 L772.5 343.8 L776.2 348.8 L785.0 351.2 L790.0 346.2 L795.0 342.5 L800.0 337.5 L807.5 335.0 L815.0 336.2 L820.0 332.5 L830.0 331.2 L837.5 328.8 L845.0 326.2 L852.5 326.2 L856.2 330.0 L855.0 335.0 L850.0 336.2 L843.8 335.0 L837.5 340.0 L833.8 346.2 L825.0 351.2 L815.0 356.2 L805.0 360.0 L797.5 367.5 L801.2 372.5 L807.5 377.5 L812.5 385.0 L817.5 392.5 L823.8 397.5 L825.0 405.0 L822.5 410.0 L830.0 417.5 L835.0 425.0 L838.8 432.5 L840.0 438.8 L835.0 440.0 L825.0 441.2 L818.8 445.0 L816.2 450.0 L810.0 451.2 L803.8 448.8 L800.0 442.5 L798.8 435.0 L795.0 427.5 L790.0 420.0 L785.0 413.8 L781.2 408.8 L785.0 402.5 L788.8 396.2 L786.2 390.0 L780.0 386.2 L772.5 387.5 L765.0 391.2 L762.5 396.2 L765.0 405.0 L767.5 415.0 L766.2 425.0 L767.5 437.5 L766.2 450.0 L765.0 460.0 L767.5 467.5 L768.8 473.8 L762.5 471.2 L755.0 472.5 L748.8 475.0 L742.5 471.2 L737.5 467.5 L738.8 460.0 L742.5 452.5 L743.8 442.5 L745.0 430.0 L742.5 420.0 L740.0 410.0 L732.5 411.2 L725.0 412.5 L722.5 405.0 L722.5 395.0 L721.2 388.8 L726.2 385.0 L730.0 380.0 L731.2 372.5 L735.0 365.0 L736.2 357.5 L737.5 350.0 L736.2 345.0 L740.0 340.0 L745.0 332.5 L748.8 327.5 L751.2 320.0 L750.0 312.5Z" fill="#FFBEBE"/>
<g clip-path="url(#c_sulawesi)">
<polygon points="860.0,280.0 870.0,280.0 877.5,277.5 883.8,272.5 887.5,267.5 886.2,295.0 870.0,298.8 862.5,300.0 860.0,292.5" fill="#FFEBAF"/>
<polygon points="883.8,275.0 887.5,267.5 893.8,263.8 896.2,258.8 903.8,255.0 911.2,266.2 902.5,277.5 896.2,282.5 891.2,288.8 886.2,295.0 882.5,285.0" fill="#D3FFBE"/>
<polygon points="897.5,263.8 903.8,257.5 910.0,263.8 905.0,268.0 900.0,267.5" fill="#BED2FF"/>
<polygon points="780.0,270.0 790.0,270.0 800.0,277.5 810.0,280.0 800.0,285.0 792.5,282.5 785.0,277.5" fill="#FFEBAF"/>
<polygon points="790.0,285.0 805.0,282.5 825.0,285.0 845.0,287.5 845.0,292.5 825.0,293.0 810.0,292.0 792.5,293.0" fill="#FFEBAF"/>
<polygon points="847.5,286.2 853.8,286.2 856.2,292.5 855.0,297.5 848.8,296.2 846.2,291.2" fill="#FF0000"/>
<polygon points="760.0,337.5 767.5,335.0 772.5,342.5 775.0,348.8 785.0,351.2 797.5,352.5 810.0,350.0 820.0,347.5 825.0,353.8 810.0,361.2 800.0,365.0 801.2,372.5 807.5,377.5 815.0,385.0 820.0,392.5 826.2,397.5 825.0,405.0 820.0,410.0 812.5,405.0 810.0,397.5 802.5,395.0 795.0,392.5 788.8,396.2 786.2,390.0 780.0,386.2 772.5,387.5 767.5,391.2 770.0,405.0 770.0,415.0 768.8,425.0 770.0,437.5 768.8,450.0 767.5,460.0 770.0,475.0 755.0,475.0 750.0,462.5 747.5,450.0 746.2,437.5 745.0,425.0 743.8,412.5 740.0,412.5 732.5,413.8 722.5,415.0 720.0,405.0 721.2,395.0 730.0,387.5 740.0,382.5 745.0,375.0 750.0,368.8 760.0,365.0 767.5,362.5 772.5,357.5 767.5,350.0 762.5,343.8" fill="#FFEBAF"/>
<polygon points="750.0,372.5 760.0,367.5 770.0,365.5 780.0,357.5 790.0,356.2 800.0,360.0 797.5,367.5 802.5,375.0 810.0,382.5 807.5,390.0 800.0,392.5 792.5,387.5 785.0,383.8 777.5,383.8 770.0,386.2 763.8,392.5 761.2,400.0 762.5,412.5 762.5,425.0 761.2,440.0 760.0,455.0 757.5,462.5 753.8,460.0 752.5,450.0 751.2,435.0 750.0,420.0 748.8,407.5 747.5,397.5 748.8,385.0" fill="#D3FFBE"/>
<polygon points="787.5,366.2 795.0,362.5 800.0,368.8 806.2,373.8 800.0,377.5 792.5,376.2 787.5,372.5" fill="#BED2FF"/>
<polygon points="735.0,450.0 750.0,450.0 752.5,462.5 750.0,477.5 735.0,472.5" fill="#FFBEBE"/>
<polygon points="735.0,345.0 740.0,339.5 745.0,332.0 748.8,327.0 751.8,330.0 750.0,337.5 746.2,342.5 743.8,350.0 740.0,353.8 737.5,351.2" fill="#FF0000"/>
<polygon points="743.8,357.5 750.0,357.0 751.2,361.2 748.8,367.5 746.2,362.5 743.8,361.2" fill="#FF0000"/>
<polygon points="816.2,337.5 820.0,332.0 830.0,330.5 837.5,328.0 845.0,324.2 851.2,324.2 857.0,328.8 855.5,335.5 850.0,339.2 847.5,332.5 842.5,331.2 840.0,337.5 835.0,340.0 830.0,346.2 825.0,343.8 820.0,342.5" fill="#FF0000"/>
<polygon points="801.2,337.5 806.2,337.5 806.2,342.5 801.2,342.5" fill="#FF0000"/>
<polygon points="781.2,408.8 788.8,410.0 793.8,413.8 792.5,417.5 786.2,416.2 782.5,412.5" fill="#FF0000"/>
<polygon points="823.8,427.5 828.8,427.5 828.8,430.0 823.8,430.0" fill="#FF0000"/>
</g>
<polyline points="746.2,375.0 750.0,367.5 757.5,366.2 766.2,365.0 768.8,368.8 775.0,371.2 782.5,375.0 792.5,380.0 802.5,385.0 808.8,387.5 807.5,395.0 800.0,396.2" fill="none" stroke="#55603e" stroke-width="0.8"/>
<polyline points="746.2,375.0 748.8,382.5 745.0,390.0 743.8,398.8 738.8,402.5 737.5,410.0" fill="none" stroke="#55603e" stroke-width="0.8"/>
<polyline points="788.8,396.2 800.0,396.2 812.5,397.5 822.5,400.0" fill="none" stroke="#55603e" stroke-width="0.8"/>
<path d="M748.8 310.0 L752.5 300.0 L756.2 295.0 L757.5 287.5 L763.8 282.5 L766.2 278.8 L768.8 285.0 L775.0 282.5 L777.5 276.2 L780.0 270.0 L790.0 270.0 L797.5 271.2 L800.0 276.2 L810.0 277.5 L822.5 278.8 L835.0 280.0 L847.5 282.5 L860.0 282.5 L870.0 282.5 L877.5 280.0 L883.8 275.0 L887.5 268.8 L893.8 265.0 L896.2 260.0 L903.8 256.2 L907.5 262.5 L910.0 266.2 L905.0 270.0 L902.5 276.2 L896.2 281.2 L891.2 287.5 L886.2 293.8 L880.0 296.2 L870.0 297.5 L862.5 298.8 L855.0 297.5 L847.5 296.2 L837.5 293.8 L825.0 295.0 L812.5 293.8 L805.0 295.0 L797.5 295.0 L790.0 296.2 L777.5 297.5 L770.0 295.0 L763.8 298.8 L760.0 303.8 L757.5 312.5 L756.2 322.5 L760.0 330.0 L765.0 335.0 L768.8 338.8 L772.5 343.8 L776.2 348.8 L785.0 351.2 L790.0 346.2 L795.0 342.5 L800.0 337.5 L807.5 335.0 L815.0 336.2 L820.0 332.5 L830.0 331.2 L837.5 328.8 L845.0 326.2 L852.5 326.2 L856.2 330.0 L855.0 335.0 L850.0 336.2 L843.8 335.0 L837.5 340.0 L833.8 346.2 L825.0 351.2 L815.0 356.2 L805.0 360.0 L797.5 367.5 L801.2 372.5 L807.5 377.5 L812.5 385.0 L817.5 392.5 L823.8 397.5 L825.0 405.0 L822.5 410.0 L830.0 417.5 L835.0 425.0 L838.8 432.5 L840.0 438.8 L835.0 440.0 L825.0 441.2 L818.8 445.0 L816.2 450.0 L810.0 451.2 L803.8 448.8 L800.0 442.5 L798.8 435.0 L795.0 427.5 L790.0 420.0 L785.0 413.8 L781.2 408.8 L785.0 402.5 L788.8 396.2 L786.2 390.0 L780.0 386.2 L772.5 387.5 L765.0 391.2 L762.5 396.2 L765.0 405.0 L767.5 415.0 L766.2 425.0 L767.5 437.5 L766.2 450.0 L765.0 460.0 L767.5 467.5 L768.8 473.8 L762.5 471.2 L755.0 472.5 L748.8 475.0 L742.5 471.2 L737.5 467.5 L738.8 460.0 L742.5 452.5 L743.8 442.5 L745.0 430.0 L742.5 420.0 L740.0 410.0 L732.5 411.2 L725.0 412.5 L722.5 405.0 L722.5 395.0 L721.2 388.8 L726.2 385.0 L730.0 380.0 L731.2 372.5 L735.0 365.0 L736.2 357.5 L737.5 350.0 L736.2 345.0 L740.0 340.0 L745.0 332.5 L748.8 327.5 L751.2 320.0 L750.0 312.5Z" fill="none" stroke="#6E6E6E" stroke-width="0.80" stroke-linejoin="round"/>
<path d="M838.8 345.0 L843.8 342.5 L850.0 343.8 L848.8 350.0 L843.8 353.8 L840.0 351.2Z" fill="#FF0000"/>
<path d="M838.8 345.0 L843.8 342.5 L850.0 343.8 L848.8 350.0 L843.8 353.8 L840.0 351.2Z" fill="none" stroke="#6E6E6E" stroke-width="0.80" stroke-linejoin="round"/>
<path d="M850.0 346.2 L857.5 345.0 L861.2 350.0 L860.0 356.2 L855.0 353.8 L851.2 351.2Z" fill="#FF0000"/>
<path d="M850.0 346.2 L857.5 345.0 L861.2 350.0 L860.0 356.2 L855.0 353.8 L851.2 351.2Z" fill="none" stroke="#6E6E6E" stroke-width="0.80" stroke-linejoin="round"/>
<path d="M847.5 358.0 L853.8 357.0 L855.0 361.2 L848.8 362.5Z" fill="#FF0000"/>
<path d="M847.5 358.0 L853.8 357.0 L855.0 361.2 L848.8 362.5Z" fill="none" stroke="#6E6E6E" stroke-width="0.80" stroke-linejoin="round"/>
<path d="M803.8 325.0 L810.0 320.0 L817.5 316.2 L825.0 316.2 L823.8 320.0 L815.0 322.5 L807.5 326.2Z" fill="#FFFFFF"/>
<path d="M803.8 325.0 L810.0 320.0 L817.5 316.2 L825.0 316.2 L823.8 320.0 L815.0 322.5 L807.5 326.2Z" fill="none" stroke="#6E6E6E" stroke-width="1.00" stroke-linejoin="round"/>
<path d="M840.0 438.8 L847.5 437.0 L850.5 443.8 L847.5 450.0 L842.5 453.0 L839.5 447.5Z" fill="#FFBEBE"/>
<path d="M840.0 438.8 L847.5 437.0 L850.5 443.8 L847.5 450.0 L842.5 453.0 L839.5 447.5Z" fill="none" stroke="#6E6E6E" stroke-width="0.80" stroke-linejoin="round"/>
<path d="M823.8 448.8 L833.8 446.2 L836.2 452.5 L838.8 450.0 L843.8 453.8 L847.5 456.2 L850.0 462.5 L845.0 466.2 L841.2 463.8 L840.0 472.5 L835.0 475.0 L830.0 472.5 L828.8 466.2 L823.8 465.0 L822.5 456.2Z" fill="#FF0000"/>
<path d="M823.8 448.8 L833.8 446.2 L836.2 452.5 L838.8 450.0 L843.8 453.8 L847.5 456.2 L850.0 462.5 L845.0 466.2 L841.2 463.8 L840.0 472.5 L835.0 475.0 L830.0 472.5 L828.8 466.2 L823.8 465.0 L822.5 456.2Z" fill="none" stroke="#6E6E6E" stroke-width="0.80" stroke-linejoin="round"/>
<path d="M810.0 457.5 L815.0 457.5 L817.0 463.8 L812.5 467.5 L808.8 463.8Z" fill="#FF0000"/>
<path d="M810.0 457.5 L815.0 457.5 L817.0 463.8 L812.5 467.5 L808.8 463.8Z" fill="none" stroke="#6E6E6E" stroke-width="0.80" stroke-linejoin="round"/>
<clipPath id="c_wowoni"><path d="M843.8 426.2 L848.8 425.0 L851.2 428.8 L848.8 432.5 L844.5 431.2Z"/></clipPath>
<path d="M843.8 426.2 L848.8 425.0 L851.2 428.8 L848.8 432.5 L844.5 431.2Z" fill="#FFBEBE"/>
<g clip-path="url(#c_wowoni)">
<polygon points="846.2,427.0 849.5,427.0 849.5,430.0 846.2,430.0" fill="#FF0000"/>
</g>
<path d="M843.8 426.2 L848.8 425.0 L851.2 428.8 L848.8 432.5 L844.5 431.2Z" fill="none" stroke="#6E6E6E" stroke-width="0.80" stroke-linejoin="round"/>
<path d="M770.0 477.5 L772.5 478.8 L772.5 490.0 L770.0 495.0 L768.8 487.5Z" fill="#FFBEBE"/>
<path d="M770.0 477.5 L772.5 478.8 L772.5 490.0 L770.0 495.0 L768.8 487.5Z" fill="none" stroke="#6E6E6E" stroke-width="0.80" stroke-linejoin="round"/>
<path d="M857.5 462.5 L862.5 462.5 L862.5 466.2 L858.0 466.2Z" fill="#FF0000"/>
<path d="M857.5 462.5 L862.5 462.5 L862.5 466.2 L858.0 466.2Z" fill="none" stroke="#8a3030" stroke-width="0.50" stroke-linejoin="round"/>
<path d="M865.0 470.0 L868.8 470.0 L868.8 473.0 L865.0 473.0Z" fill="#FF0000"/>
<path d="M865.0 470.0 L868.8 470.0 L868.8 473.0 L865.0 473.0Z" fill="none" stroke="#8a3030" stroke-width="0.50" stroke-linejoin="round"/>
<path d="M870.0 476.2 L873.0 476.2 L873.0 478.8 L870.0 478.8Z" fill="#FF0000"/>
<path d="M870.0 476.2 L873.0 476.2 L873.0 478.8 L870.0 478.8Z" fill="none" stroke="#8a3030" stroke-width="0.50" stroke-linejoin="round"/>
<path d="M872.5 482.5 L875.0 482.5 L875.0 485.0 L872.5 485.0Z" fill="#FF0000"/>
<path d="M872.5 482.5 L875.0 482.5 L875.0 485.0 L872.5 485.0Z" fill="none" stroke="#8a3030" stroke-width="0.50" stroke-linejoin="round"/>
<path d="M882.5 358.8 L890.0 356.2 L900.0 358.0 L907.5 360.0 L911.2 362.5 L902.5 365.0 L893.8 366.2 L886.2 368.8 L882.5 365.0Z" fill="#FFBEBE"/>
<path d="M882.5 358.8 L890.0 356.2 L900.0 358.0 L907.5 360.0 L911.2 362.5 L902.5 365.0 L893.8 366.2 L886.2 368.8 L882.5 365.0Z" fill="none" stroke="#6E6E6E" stroke-width="0.80" stroke-linejoin="round"/>
<path d="M996.2 240.0 L1001.2 233.8 L1007.5 232.5 L1010.0 237.5 L1008.8 245.0 L1003.8 248.8 L998.8 250.0 L996.2 245.0Z" fill="#D3FFBE"/>
<path d="M996.2 240.0 L1001.2 233.8 L1007.5 232.5 L1010.0 237.5 L1008.8 245.0 L1003.8 248.8 L998.8 250.0 L996.2 245.0Z" fill="none" stroke="#6E6E6E" stroke-width="0.80" stroke-linejoin="round"/>
<clipPath id="c_halmahera"><path d="M981.2 253.8 L986.2 247.5 L991.2 245.0 L990.0 251.2 L988.8 257.5 L991.2 262.5 L988.8 270.0 L986.2 275.0 L983.8 280.0 L985.5 284.5 L990.0 282.5 L993.0 275.0 L997.5 267.0 L1003.8 263.8 L1010.0 263.8 L1011.2 270.0 L1010.0 276.2 L1006.2 280.0 L1001.2 283.8 L998.8 287.5 L1003.8 291.2 L1007.5 295.0 L1011.2 298.8 L1017.5 302.5 L1013.8 302.0 L1007.5 298.8 L1001.2 296.2 L995.0 295.0 L990.0 297.5 L988.8 302.5 L990.0 310.0 L991.2 317.5 L993.8 323.8 L996.2 330.0 L1000.0 336.2 L1002.5 342.5 L998.8 340.0 L993.8 332.5 L990.0 325.0 L986.2 317.5 L983.8 310.0 L982.5 302.5 L981.2 296.2 L977.5 292.5 L976.2 286.2 L977.5 280.0 L975.0 275.0 L973.8 267.5 L976.2 260.0Z"/></clipPath>
<path d="M981.2 253.8 L986.2 247.5 L991.2 245.0 L990.0 251.2 L988.8 257.5 L991.2 262.5 L988.8 270.0 L986.2 275.0 L983.8 280.0 L985.5 284.5 L990.0 282.5 L993.0 275.0 L997.5 267.0 L1003.8 263.8 L1010.0 263.8 L1011.2 270.0 L1010.0 276.2 L1006.2 280.0 L1001.2 283.8 L998.8 287.5 L1003.8 291.2 L1007.5 295.0 L1011.2 298.8 L1017.5 302.5 L1013.8 302.0 L1007.5 298.8 L1001.2 296.2 L995.0 295.0 L990.0 297.5 L988.8 302.5 L990.0 310.0 L991.2 317.5 L993.8 323.8 L996.2 330.0 L1000.0 336.2 L1002.5 342.5 L998.8 340.0 L993.8 332.5 L990.0 325.0 L986.2 317.5 L983.8 310.0 L982.5 302.5 L981.2 296.2 L977.5 292.5 L976.2 286.2 L977.5 280.0 L975.0 275.0 L973.8 267.5 L976.2 260.0Z" fill="#D3FFBE"/>
<g clip-path="url(#c_halmahera)">
<polygon points="980.0,265.0 986.2,263.8 987.5,272.5 983.8,277.5 980.0,275.0" fill="#FFEBAF"/>
<polygon points="976.2,286.2 986.2,287.5 990.0,297.5 990.0,310.0 993.8,323.8 1000.0,336.2 1002.5,343.8 993.8,332.5 986.2,317.5 982.5,302.5 977.5,292.5" fill="#FFEBAF"/>
</g>
<path d="M981.2 253.8 L986.2 247.5 L991.2 245.0 L990.0 251.2 L988.8 257.5 L991.2 262.5 L988.8 270.0 L986.2 275.0 L983.8 280.0 L985.5 284.5 L990.0 282.5 L993.0 275.0 L997.5 267.0 L1003.8 263.8 L1010.0 263.8 L1011.2 270.0 L1010.0 276.2 L1006.2 280.0 L1001.2 283.8 L998.8 287.5 L1003.8 291.2 L1007.5 295.0 L1011.2 298.8 L1017.5 302.5 L1013.8 302.0 L1007.5 298.8 L1001.2 296.2 L995.0 295.0 L990.0 297.5 L988.8 302.5 L990.0 310.0 L991.2 317.5 L993.8 323.8 L996.2 330.0 L1000.0 336.2 L1002.5 342.5 L998.8 340.0 L993.8 332.5 L990.0 325.0 L986.2 317.5 L983.8 310.0 L982.5 302.5 L981.2 296.2 L977.5 292.5 L976.2 286.2 L977.5 280.0 L975.0 275.0 L973.8 267.5 L976.2 260.0Z" fill="none" stroke="#6E6E6E" stroke-width="0.80" stroke-linejoin="round"/>
<clipPath id="c_bacan"><path d="M970.0 320.0 L977.5 318.8 L981.2 323.8 L978.8 330.0 L972.5 331.2 L968.8 326.2Z"/></clipPath>
<path d="M970.0 320.0 L977.5 318.8 L981.2 323.8 L978.8 330.0 L972.5 331.2 L968.8 326.2Z" fill="#FFEBAF"/>
<g clip-path="url(#c_bacan)">
<polygon points="973.8,327.5 977.5,327.5 977.5,331.2 973.8,331.2" fill="#BED2FF"/>
</g>
<path d="M970.0 320.0 L977.5 318.8 L981.2 323.8 L978.8 330.0 L972.5 331.2 L968.8 326.2Z" fill="none" stroke="#6E6E6E" stroke-width="0.80" stroke-linejoin="round"/>
<path d="M980.0 328.8 L986.2 330.0 L985.0 335.0 L980.0 333.8Z" fill="#FFEBAF"/>
<path d="M980.0 328.8 L986.2 330.0 L985.0 335.0 L980.0 333.8Z" fill="none" stroke="#6E6E6E" stroke-width="0.80" stroke-linejoin="round"/>
<path d="M963.8 316.2 L968.8 317.5 L967.5 323.8 L963.8 322.5Z" fill="#FFEBAF"/>
<path d="M963.8 316.2 L968.8 317.5 L967.5 323.8 L963.8 322.5Z" fill="none" stroke="#6E6E6E" stroke-width="0.80" stroke-linejoin="round"/>
<path d="M971.2 297.5 L973.2 297.5 L973.2 300.0 L971.2 300.0Z" fill="#FFFFFF"/>
<path d="M971.2 297.5 L973.2 297.5 L973.2 300.0 L971.2 300.0Z" fill="none" stroke="#6E6E6E" stroke-width="1.00" stroke-linejoin="round"/>
<path d="M972.5 303.8 L974.5 303.8 L974.5 311.2 L972.5 311.2Z" fill="#FFFFFF"/>
<path d="M972.5 303.8 L974.5 303.8 L974.5 311.2 L972.5 311.2Z" fill="none" stroke="#6E6E6E" stroke-width="1.00" stroke-linejoin="round"/>
<clipPath id="c_obi"><path d="M971.9 353.8 L973.1 350.0 L977.5 348.5 L982.5 349.0 L987.5 351.2 L991.9 353.8 L994.4 356.2 L993.1 358.8 L988.8 359.4 L982.5 359.4 L976.2 359.8 L973.1 357.5Z"/></clipPath>
<path d="M971.9 353.8 L973.1 350.0 L977.5 348.5 L982.5 349.0 L987.5 351.2 L991.9 353.8 L994.4 356.2 L993.1 358.8 L988.8 359.4 L982.5 359.4 L976.2 359.8 L973.1 357.5Z" fill="#BED2FF"/>
<g clip-path="url(#c_obi)">
<polygon points="973.8,350.0 982.5,349.0 985.0,353.8 980.0,358.8 975.0,358.8" fill="#D3FFBE"/>
<polygon points="982.5,351.2 989.4,352.5 990.0,358.8 983.8,358.8" fill="#FFEBAF"/>
<polygon points="989.4,353.8 994.4,356.2 993.1,359.0 989.4,358.8" fill="#FFBEBE"/>
<polygon points="976.9,351.9 978.5,351.9 978.5,355.0 976.9,355.0" fill="#0070FF"/>
</g>
<path d="M971.9 353.8 L973.1 350.0 L977.5 348.5 L982.5 349.0 L987.5 351.2 L991.9 353.8 L994.4 356.2 L993.1 358.8 L988.8 359.4 L982.5 359.4 L976.2 359.8 L973.1 357.5Z" fill="none" stroke="#6E6E6E" stroke-width="0.80" stroke-linejoin="round"/>
<clipPath id="c_misool"><path d="M1040.6 361.9 L1045.0 360.0 L1051.2 358.8 L1057.5 358.8 L1060.6 360.6 L1060.0 364.4 L1056.2 368.1 L1051.2 368.8 L1046.2 366.9 L1043.1 364.4Z"/></clipPath>
<path d="M1040.6 361.9 L1045.0 360.0 L1051.2 358.8 L1057.5 358.8 L1060.6 360.6 L1060.0 364.4 L1056.2 368.1 L1051.2 368.8 L1046.2 366.9 L1043.1 364.4Z" fill="#BED2FF"/>
<g clip-path="url(#c_misool)">
<polygon points="1045.0,360.0 1057.5,358.8 1058.8,362.5 1050.0,363.1" fill="#D3FFBE"/>
<polygon points="1058.1,361.9 1061.9,363.1 1063.8,366.9 1060.0,368.1 1057.5,365.0" fill="#6E6E6E"/>
</g>
<path d="M1040.6 361.9 L1045.0 360.0 L1051.2 358.8 L1057.5 358.8 L1060.6 360.6 L1060.0 364.4 L1056.2 368.1 L1051.2 368.8 L1046.2 366.9 L1043.1 364.4Z" fill="none" stroke="#6E6E6E" stroke-width="0.80" stroke-linejoin="round"/>
<clipPath id="c_mangole"><path d="M920.0 362.5 L927.5 361.9 L938.8 361.5 L945.6 362.2 L938.8 363.5 L930.0 364.4 L920.0 365.0Z"/></clipPath>
<path d="M920.0 362.5 L927.5 361.9 L938.8 361.5 L945.6 362.2 L938.8 363.5 L930.0 364.4 L920.0 365.0Z" fill="#D3FFBE"/>
<g clip-path="url(#c_mangole)">
<polygon points="927.5,361.2 940.0,361.2 940.0,364.0 927.5,364.4" fill="#BED2FF"/>
</g>
<path d="M920.0 362.5 L927.5 361.9 L938.8 361.5 L945.6 362.2 L938.8 363.5 L930.0 364.4 L920.0 365.0Z" fill="none" stroke="#6E6E6E" stroke-width="0.80" stroke-linejoin="round"/>
<path d="M927.5 365.0 L930.0 365.6 L931.2 371.2 L933.1 377.5 L933.1 380.6 L931.2 380.6 L929.4 376.2 L927.8 370.0Z" fill="#FFFFFF"/>
<path d="M927.5 365.0 L930.0 365.6 L931.2 371.2 L933.1 377.5 L933.1 380.6 L931.2 380.6 L929.4 376.2 L927.8 370.0Z" fill="none" stroke="#6E6E6E" stroke-width="0.90" stroke-linejoin="round"/>
<clipPath id="c_buru"><path d="M930.6 401.9 L933.8 399.4 L940.0 398.8 L947.5 398.1 L953.8 397.5 L960.0 400.0 L963.8 405.0 L968.1 408.1 L968.1 413.8 L965.0 416.9 L958.8 419.4 L951.9 421.9 L946.9 420.0 L941.2 416.2 L936.2 413.1 L932.5 408.1Z"/></clipPath>
<path d="M930.6 401.9 L933.8 399.4 L940.0 398.8 L947.5 398.1 L953.8 397.5 L960.0 400.0 L963.8 405.0 L968.1 408.1 L968.1 413.8 L965.0 416.9 L958.8 419.4 L951.9 421.9 L946.9 420.0 L941.2 416.2 L936.2 413.1 L932.5 408.1Z" fill="#BED2FF"/>
<g clip-path="url(#c_buru)">
<polygon points="930.0,401.9 940.0,398.1 951.2,397.5 950.0,405.0 945.0,410.0 938.8,414.4 931.9,408.8" fill="#FFEBAF"/>
<polygon points="935.0,402.5 945.0,402.5 946.2,408.8 940.0,412.5" fill="#D3FFBE"/>
<polygon points="950.0,401.9 953.1,401.9 956.2,405.0 955.6,410.6 951.2,412.5 949.4,408.1" fill="#FFBEBE"/>
<polygon points="951.2,400.0 955.0,397.8 961.2,399.8 963.4,405.0 961.2,409.0 957.5,410.9 954.4,408.1 956.2,405.0 953.1,403.1" fill="#FF0000"/>
<polygon points="945.0,417.5 949.4,418.1 949.4,420.6 945.6,420.0" fill="#0070FF"/>
</g>
<path d="M930.6 401.9 L933.8 399.4 L940.0 398.8 L947.5 398.1 L953.8 397.5 L960.0 400.0 L963.8 405.0 L968.1 408.1 L968.1 413.8 L965.0 416.9 L958.8 419.4 L951.9 421.9 L946.9 420.0 L941.2 416.2 L936.2 413.1 L932.5 408.1Z" fill="none" stroke="#6E6E6E" stroke-width="0.80" stroke-linejoin="round"/>
<clipPath id="c_seram"><path d="M993.1 395.0 L995.0 392.5 L1001.2 391.9 L1007.5 391.5 L1015.0 391.9 L1018.1 390.6 L1018.8 388.1 L1020.0 390.6 L1021.2 392.5 L1020.6 395.0 L1023.8 394.4 L1026.9 392.5 L1030.0 390.6 L1033.8 390.0 L1038.8 391.2 L1043.8 393.1 L1048.8 395.6 L1053.8 396.2 L1058.8 396.9 L1063.8 399.4 L1067.5 402.5 L1070.0 406.2 L1071.9 410.0 L1073.1 415.0 L1073.1 421.2 L1070.0 420.0 L1066.2 418.1 L1062.5 415.6 L1057.5 413.8 L1052.5 411.2 L1048.8 408.8 L1046.2 406.9 L1042.5 405.6 L1038.8 406.2 L1035.0 408.1 L1033.8 409.4 L1030.0 408.1 L1026.2 407.5 L1022.5 406.2 L1018.8 405.6 L1016.2 406.9 L1017.5 403.8 L1015.0 401.9 L1012.5 405.0 L1010.0 408.1 L1007.5 410.0 L1005.0 411.2 L1001.2 409.4 L1000.0 406.2 L997.5 403.1 L995.0 401.2 L995.6 398.1Z"/></clipPath>
<path d="M993.1 395.0 L995.0 392.5 L1001.2 391.9 L1007.5 391.5 L1015.0 391.9 L1018.1 390.6 L1018.8 388.1 L1020.0 390.6 L1021.2 392.5 L1020.6 395.0 L1023.8 394.4 L1026.9 392.5 L1030.0 390.6 L1033.8 390.0 L1038.8 391.2 L1043.8 393.1 L1048.8 395.6 L1053.8 396.2 L1058.8 396.9 L1063.8 399.4 L1067.5 402.5 L1070.0 406.2 L1071.9 410.0 L1073.1 415.0 L1073.1 421.2 L1070.0 420.0 L1066.2 418.1 L1062.5 415.6 L1057.5 413.8 L1052.5 411.2 L1048.8 408.8 L1046.2 406.9 L1042.5 405.6 L1038.8 406.2 L1035.0 408.1 L1033.8 409.4 L1030.0 408.1 L1026.2 407.5 L1022.5 406.2 L1018.8 405.6 L1016.2 406.9 L1017.5 403.8 L1015.0 401.9 L1012.5 405.0 L1010.0 408.1 L1007.5 410.0 L1005.0 411.2 L1001.2 409.4 L1000.0 406.2 L997.5 403.1 L995.0 401.2 L995.6 398.1Z" fill="#BED2FF"/>
<g clip-path="url(#c_seram)">
<polygon points="1028.8,390.0 1038.8,390.6 1048.8,395.0 1058.8,396.2 1063.8,398.8 1068.1,402.5 1072.5,410.0 1073.8,421.9 1066.2,418.8 1057.5,414.4 1050.0,409.4 1047.5,405.0 1048.8,400.0 1042.5,396.2 1035.0,395.0 1030.0,395.0 1026.2,393.8" fill="#FFEBAF"/>
<polygon points="1030.0,390.0 1038.8,390.6 1046.2,395.0 1050.0,397.5 1045.0,397.5 1037.5,395.0 1030.0,393.8" fill="#FFBEBE"/>
<polygon points="1063.8,410.0 1070.0,410.0 1073.8,417.5 1067.5,416.2" fill="#FFBEBE"/>
<polygon points="1052.5,398.8 1060.0,398.1 1065.0,402.5 1063.8,407.5 1057.5,410.0 1052.5,406.2" fill="#D3FFBE"/>
<polygon points="1055.0,402.5 1056.9,401.9 1057.5,406.2 1055.6,406.9" fill="#0070FF"/>
<polygon points="1060.0,402.5 1062.5,402.5 1063.1,407.5 1061.2,408.1" fill="#0070FF"/>
<polygon points="1005.0,395.0 1015.0,394.4 1016.2,397.5 1012.5,398.8 1007.5,398.8 1005.0,397.5" fill="#0070FF"/>
<polygon points="1001.9,405.0 1007.5,404.4 1007.5,408.1 1005.0,410.2 1001.9,409.0" fill="#0070FF"/>
<polygon points="1021.2,396.9 1028.8,396.2 1037.5,396.9 1040.0,399.4 1046.2,400.0 1046.9,403.8 1042.5,404.4 1038.8,402.5 1035.0,403.8 1034.4,409.0 1030.0,409.0 1026.2,407.8 1025.0,403.8 1021.9,401.2" fill="#0070FF"/>
</g>
<path d="M993.1 395.0 L995.0 392.5 L1001.2 391.9 L1007.5 391.5 L1015.0 391.9 L1018.1 390.6 L1018.8 388.1 L1020.0 390.6 L1021.2 392.5 L1020.6 395.0 L1023.8 394.4 L1026.9 392.5 L1030.0 390.6 L1033.8 390.0 L1038.8 391.2 L1043.8 393.1 L1048.8 395.6 L1053.8 396.2 L1058.8 396.9 L1063.8 399.4 L1067.5 402.5 L1070.0 406.2 L1071.9 410.0 L1073.1 415.0 L1073.1 421.2 L1070.0 420.0 L1066.2 418.1 L1062.5 415.6 L1057.5 413.8 L1052.5 411.2 L1048.8 408.8 L1046.2 406.9 L1042.5 405.6 L1038.8 406.2 L1035.0 408.1 L1033.8 409.4 L1030.0 408.1 L1026.2 407.5 L1022.5 406.2 L1018.8 405.6 L1016.2 406.9 L1017.5 403.8 L1015.0 401.9 L1012.5 405.0 L1010.0 408.1 L1007.5 410.0 L1005.0 411.2 L1001.2 409.4 L1000.0 406.2 L997.5 403.1 L995.0 401.2 L995.6 398.1Z" fill="none" stroke="#6E6E6E" stroke-width="0.80" stroke-linejoin="round"/>
<path d="M987.5 403.1 L990.0 400.0 L993.1 398.1 L993.8 402.5 L991.2 406.2 L989.4 410.0 L987.5 411.9 L986.9 408.1Z" fill="#BED2FF"/>
<path d="M987.5 403.1 L990.0 400.0 L993.1 398.1 L993.8 402.5 L991.2 406.2 L989.4 410.0 L987.5 411.9 L986.9 408.1Z" fill="none" stroke="#5b6f8f" stroke-width="0.80" stroke-linejoin="round"/>
<clipPath id="c_ambon"><path d="M987.5 415.6 L991.2 413.8 L996.2 411.9 L1000.0 411.2 L1001.2 413.8 L997.5 416.2 L993.8 418.1 L990.0 419.4 L987.5 418.1Z"/></clipPath>
<path d="M987.5 415.6 L991.2 413.8 L996.2 411.9 L1000.0 411.2 L1001.2 413.8 L997.5 416.2 L993.8 418.1 L990.0 419.4 L987.5 418.1Z" fill="#BED2FF"/>
<g clip-path="url(#c_ambon)">
<polygon points="990.0,415.0 997.5,413.1 998.1,415.0 991.2,417.5" fill="#0070FF"/>
</g>
<path d="M987.5 415.6 L991.2 413.8 L996.2 411.9 L1000.0 411.2 L1001.2 413.8 L997.5 416.2 L993.8 418.1 L990.0 419.4 L987.5 418.1Z" fill="none" stroke="#4f6a9a" stroke-width="0.80" stroke-linejoin="round"/>
<path d="M1002.5 412.5 L1007.5 411.2 L1010.6 413.1 L1012.5 415.6 L1010.0 415.6 L1006.2 414.4 L1003.1 414.4Z" fill="#BED2FF"/>
<path d="M1002.5 412.5 L1007.5 411.2 L1010.6 413.1 L1012.5 415.6 L1010.0 415.6 L1006.2 414.4 L1003.1 414.4Z" fill="none" stroke="#5b6f8f" stroke-width="0.80" stroke-linejoin="round"/>
<path d="M973.8 404.4 L976.9 404.4 L978.1 406.9 L975.0 406.9Z" fill="#FFFFFF"/>
<path d="M973.8 404.4 L976.9 404.4 L978.1 406.9 L975.0 406.9Z" fill="none" stroke="#6E6E6E" stroke-width="1.00" stroke-linejoin="round"/>
<path d="M980.0 401.9 L984.4 400.6 L985.0 403.1 L981.2 404.0Z" fill="#FFFFFF"/>
<path d="M980.0 401.9 L984.4 400.6 L985.0 403.1 L981.2 404.0Z" fill="none" stroke="#6E6E6E" stroke-width="1.00" stroke-linejoin="round"/>
<clipPath id="c_papua"><path d="M1076.7 350.1 L1078.4 345.1 L1081.7 339.3 L1086.7 333.4 L1091.7 330.9 L1098.4 330.1 L1105.1 329.2 L1108.4 325.1 L1111.8 320.9 L1118.5 319.2 L1126.8 319.7 L1133.5 322.5 L1140.2 325.9 L1146.9 330.1 L1153.5 330.9 L1163.6 330.1 L1168.6 334.2 L1170.2 341.8 L1171.9 348.4 L1169.4 353.4 L1170.2 358.5 L1168.6 366.8 L1168.9 373.5 L1171.9 378.5 L1175.2 385.2 L1178.6 391.0 L1181.9 393.5 L1183.6 398.5 L1188.6 401.9 L1192.0 405.2 L1198.6 407.7 L1205.3 407.7 L1210.3 405.2 L1215.3 400.2 L1220.3 395.2 L1224.5 388.5 L1228.7 382.7 L1232.0 377.7 L1235.4 374.3 L1243.7 372.7 L1252.1 371.0 L1258.8 368.5 L1256.3 364.3 L1255.4 361.0 L1263.8 356.8 L1270.5 353.4 L1277.1 350.9 L1282.1 353.4 L1290.0 361.2 L1300.0 366.2 L1310.0 368.8 L1322.5 372.5 L1335.0 376.2 L1345.0 380.0 L1360.0 379.5 L1360.0 561.2 L1355.8 561.2 L1347.5 555.0 L1342.5 550.0 L1335.0 547.5 L1330.0 543.8 L1322.5 545.0 L1315.0 547.5 L1311.2 550.0 L1310.0 553.8 L1306.2 552.5 L1300.0 553.8 L1290.0 555.0 L1280.0 556.2 L1271.2 556.2 L1272.5 550.0 L1276.2 542.5 L1281.2 533.8 L1287.5 527.5 L1296.2 525.0 L1303.8 524.5 L1301.2 518.8 L1298.8 512.5 L1301.2 506.2 L1297.5 500.0 L1293.8 492.5 L1288.8 482.5 L1282.5 473.8 L1275.0 466.2 L1267.5 460.0 L1258.8 455.0 L1250.0 450.0 L1240.0 445.0 L1231.2 441.2 L1222.5 438.8 L1213.8 437.5 L1205.0 437.5 L1198.8 435.0 L1196.1 435.3 L1193.6 432.0 L1188.6 429.4 L1184.4 426.9 L1180.3 424.4 L1175.2 425.3 L1171.1 424.4 L1166.9 421.9 L1163.6 418.6 L1160.2 415.2 L1157.7 411.9 L1156.0 408.6 L1157.7 403.6 L1160.2 398.5 L1161.1 394.4 L1158.5 396.9 L1156.0 400.2 L1153.5 404.4 L1151.0 410.2 L1148.5 416.9 L1145.2 422.8 L1141.8 426.9 L1138.5 428.6 L1133.5 426.9 L1130.2 421.9 L1128.5 416.1 L1131.0 413.6 L1129.3 408.6 L1126.8 403.6 L1124.3 399.4 L1120.1 396.9 L1115.1 394.4 L1110.1 393.5 L1105.9 391.0 L1108.4 387.7 L1113.4 386.0 L1118.5 386.9 L1122.6 390.2 L1126.8 394.4 L1129.3 398.5 L1130.2 393.5 L1131.0 388.5 L1133.5 384.3 L1136.8 381.0 L1141.8 379.3 L1145.2 381.0 L1146.9 385.2 L1151.0 383.5 L1156.0 381.8 L1160.2 378.5 L1164.4 376.0 L1166.9 373.8 L1160.2 372.7 L1155.2 373.5 L1150.2 374.3 L1143.5 374.3 L1136.8 373.5 L1131.8 375.2 L1126.8 376.0 L1121.8 374.3 L1116.8 375.2 L1111.8 371.8 L1107.6 367.6 L1105.1 363.5 L1102.6 358.5 L1098.4 354.3 L1093.4 350.1 L1088.4 351.8 L1083.4 350.1 L1080.0 351.8Z"/></clipPath>
<path d="M1076.7 350.1 L1078.4 345.1 L1081.7 339.3 L1086.7 333.4 L1091.7 330.9 L1098.4 330.1 L1105.1 329.2 L1108.4 325.1 L1111.8 320.9 L1118.5 319.2 L1126.8 319.7 L1133.5 322.5 L1140.2 325.9 L1146.9 330.1 L1153.5 330.9 L1163.6 330.1 L1168.6 334.2 L1170.2 341.8 L1171.9 348.4 L1169.4 353.4 L1170.2 358.5 L1168.6 366.8 L1168.9 373.5 L1171.9 378.5 L1175.2 385.2 L1178.6 391.0 L1181.9 393.5 L1183.6 398.5 L1188.6 401.9 L1192.0 405.2 L1198.6 407.7 L1205.3 407.7 L1210.3 405.2 L1215.3 400.2 L1220.3 395.2 L1224.5 388.5 L1228.7 382.7 L1232.0 377.7 L1235.4 374.3 L1243.7 372.7 L1252.1 371.0 L1258.8 368.5 L1256.3 364.3 L1255.4 361.0 L1263.8 356.8 L1270.5 353.4 L1277.1 350.9 L1282.1 353.4 L1290.0 361.2 L1300.0 366.2 L1310.0 368.8 L1322.5 372.5 L1335.0 376.2 L1345.0 380.0 L1360.0 379.5 L1360.0 561.2 L1355.8 561.2 L1347.5 555.0 L1342.5 550.0 L1335.0 547.5 L1330.0 543.8 L1322.5 545.0 L1315.0 547.5 L1311.2 550.0 L1310.0 553.8 L1306.2 552.5 L1300.0 553.8 L1290.0 555.0 L1280.0 556.2 L1271.2 556.2 L1272.5 550.0 L1276.2 542.5 L1281.2 533.8 L1287.5 527.5 L1296.2 525.0 L1303.8 524.5 L1301.2 518.8 L1298.8 512.5 L1301.2 506.2 L1297.5 500.0 L1293.8 492.5 L1288.8 482.5 L1282.5 473.8 L1275.0 466.2 L1267.5 460.0 L1258.8 455.0 L1250.0 450.0 L1240.0 445.0 L1231.2 441.2 L1222.5 438.8 L1213.8 437.5 L1205.0 437.5 L1198.8 435.0 L1196.1 435.3 L1193.6 432.0 L1188.6 429.4 L1184.4 426.9 L1180.3 424.4 L1175.2 425.3 L1171.1 424.4 L1166.9 421.9 L1163.6 418.6 L1160.2 415.2 L1157.7 411.9 L1156.0 408.6 L1157.7 403.6 L1160.2 398.5 L1161.1 394.4 L1158.5 396.9 L1156.0 400.2 L1153.5 404.4 L1151.0 410.2 L1148.5 416.9 L1145.2 422.8 L1141.8 426.9 L1138.5 428.6 L1133.5 426.9 L1130.2 421.9 L1128.5 416.1 L1131.0 413.6 L1129.3 408.6 L1126.8 403.6 L1124.3 399.4 L1120.1 396.9 L1115.1 394.4 L1110.1 393.5 L1105.9 391.0 L1108.4 387.7 L1113.4 386.0 L1118.5 386.9 L1122.6 390.2 L1126.8 394.4 L1129.3 398.5 L1130.2 393.5 L1131.0 388.5 L1133.5 384.3 L1136.8 381.0 L1141.8 379.3 L1145.2 381.0 L1146.9 385.2 L1151.0 383.5 L1156.0 381.8 L1160.2 378.5 L1164.4 376.0 L1166.9 373.8 L1160.2 372.7 L1155.2 373.5 L1150.2 374.3 L1143.5 374.3 L1136.8 373.5 L1131.8 375.2 L1126.8 376.0 L1121.8 374.3 L1116.8 375.2 L1111.8 371.8 L1107.6 367.6 L1105.1 363.5 L1102.6 358.5 L1098.4 354.3 L1093.4 350.1 L1088.4 351.8 L1083.4 350.1 L1080.0 351.8Z" fill="#D3FFBE"/>
<g clip-path="url(#c_papua)">
<polygon points="1255.0,362.5 1260.0,358.8 1276.2,350.0 1300.0,365.0 1360.0,377.5 1360.0,450.0 1335.0,440.0 1310.0,430.0 1285.0,425.0 1260.0,422.5 1247.5,420.0 1235.0,417.5 1225.0,412.5 1232.5,405.0 1240.0,400.0 1247.5,392.5 1255.0,385.0 1260.0,375.0 1258.8,367.5" fill="#FFBEBE"/>
<polygon points="1247.5,372.5 1257.5,367.5 1262.5,375.0 1257.5,386.2 1250.0,395.0 1242.5,402.5 1235.0,407.5 1227.5,412.5 1220.0,417.5 1210.0,420.0 1200.0,422.5 1195.0,417.5 1207.5,413.8 1217.5,410.0 1227.5,402.5 1235.0,395.0 1242.5,385.0" fill="#FFEBAF"/>
<polygon points="1195.0,420.0 1210.0,422.5 1225.0,417.5 1235.0,420.0 1247.5,422.5 1260.0,425.0 1285.0,427.5 1310.0,432.5 1335.0,442.5 1360.0,453.8 1360.0,461.2 1335.0,450.0 1310.0,440.0 1285.0,435.0 1260.0,432.5 1235.0,430.0 1220.0,432.5 1210.0,435.0 1200.0,436.2 1195.0,430.0" fill="#FFEBAF"/>
<polygon points="1195.0,416.2 1210.0,419.5 1225.0,415.5 1235.0,416.2 1250.0,421.2 1235.0,425.0 1210.0,425.0 1195.0,423.8" fill="#FFEBAF"/>
<polygon points="1220.0,440.0 1227.5,436.2 1240.0,433.8 1260.0,437.5 1285.0,440.0 1310.0,445.0 1335.0,455.0 1360.0,466.2 1360.0,525.0 1335.0,520.0 1310.0,512.5 1300.0,500.0 1285.0,475.0 1270.0,462.5 1255.0,452.5 1240.0,447.5 1230.0,445.0" fill="#BED2FF"/>
<polygon points="1247.5,445.0 1255.0,441.2 1265.0,443.8 1275.0,447.5 1285.0,446.2 1295.0,450.0 1310.0,453.8 1322.5,460.0 1335.0,465.0 1340.0,472.5 1350.0,475.0 1360.0,478.8 1360.0,497.5 1347.5,500.0 1335.0,498.8 1322.5,495.0 1310.0,496.2 1300.0,495.0 1292.5,487.5 1287.5,477.5 1282.5,470.0 1275.0,462.5 1267.5,457.5 1260.0,452.5 1252.5,450.0" fill="#0070FF"/>
<polygon points="1310.0,530.0 1320.0,527.5 1335.0,530.0 1360.0,538.8 1360.0,546.2 1335.0,538.8 1322.5,537.5 1312.5,540.0" fill="#FFEBAF"/>
<polygon points="1312.5,540.0 1322.5,537.5 1335.0,538.8 1360.0,546.2 1360.0,555.0 1342.5,547.5 1330.0,543.8 1322.5,545.0 1315.0,547.5" fill="#FFBEBE"/>
<polygon points="1342.5,548.0 1360.0,550.0 1360.0,565.0 1347.5,556.2" fill="#FF0000"/>
<polygon points="1270.0,557.5 1272.5,550.0 1276.2,542.5 1281.2,533.8 1287.5,527.5 1296.2,525.0 1303.8,524.5 1312.5,530.0 1311.2,550.0 1306.2,553.8 1290.0,556.2" fill="#FFBEBE"/>
<polygon points="1285.0,537.5 1295.0,530.0 1307.5,530.0 1306.2,540.0 1297.5,547.5 1290.0,545.0" fill="#FFEBAF"/>
<polygon points="1252.5,415.0 1260.0,412.5 1270.0,407.5 1277.5,405.0 1285.0,400.0 1285.0,390.0 1292.5,386.2 1297.5,380.0 1296.2,372.5 1300.0,365.5 1310.0,368.0 1322.5,371.8 1342.5,378.0 1360.0,378.8 1360.0,396.2 1342.5,395.0 1332.5,398.8 1328.8,405.0 1330.0,413.8 1333.8,420.0 1338.8,422.5 1341.2,428.8 1347.5,435.0 1360.0,436.2 1360.0,455.0 1345.0,447.5 1335.0,442.5 1322.5,438.8 1310.0,435.0 1297.5,432.5 1285.0,428.8 1272.5,427.5 1260.0,423.8 1253.8,420.0" fill="#FF0000"/>
<polygon points="1328.8,405.0 1332.5,398.8 1342.5,395.0 1360.0,396.2 1360.0,436.2 1347.5,435.0 1341.2,428.8 1338.8,422.5 1333.8,420.0 1330.0,413.8" fill="#FFFFFF"/>
<polygon points="1210.0,420.0 1220.0,417.5 1225.0,422.5 1217.5,425.0" fill="#FFBEBE"/>
<polygon points="1160.2,378.5 1166.9,374.3 1170.2,378.5 1175.2,385.2 1180.3,391.9 1183.6,398.5 1188.6,401.9 1193.6,406.9 1198.6,408.6 1198.6,416.9 1193.6,432.0 1183.6,426.9 1176.9,425.3 1171.1,425.3 1166.9,422.8 1163.6,416.9 1160.2,408.6 1158.5,400.2 1160.2,393.5 1159.4,385.2" fill="#FFEBAF"/>
<polygon points="1161.9,390.2 1168.6,388.5 1173.6,393.5 1175.2,400.2 1171.9,406.9 1166.9,415.2 1162.7,413.6 1160.2,406.9 1160.2,398.5" fill="#D3FFBE"/>
<polygon points="1155.2,401.9 1161.1,400.2 1161.9,406.9 1159.4,411.9 1155.2,410.2" fill="#BED2FF"/>
<polygon points="1182.8,416.9 1188.6,414.4 1193.6,414.4 1195.3,420.3 1193.6,426.9 1190.3,431.1 1186.1,428.6 1183.6,424.4 1181.1,421.1" fill="#0070FF"/>
<polygon points="1075.0,350.1 1086.7,332.6 1108.4,324.2 1118.5,318.4 1130.2,320.9 1133.5,330.1 1134.3,341.8 1133.5,350.1 1131.8,356.8 1126.8,360.1 1118.5,358.5 1110.1,360.1 1105.1,363.5 1098.4,355.1 1088.4,352.6" fill="#BED2FF"/>
<polygon points="1118.5,318.4 1133.5,321.7 1138.5,326.7 1135.2,333.4 1130.2,330.1 1123.5,328.4 1118.5,325.1" fill="#D3FFBE"/>
<polygon points="1105.1,363.5 1113.4,360.1 1126.8,361.0 1131.8,366.8 1130.2,374.3 1121.8,375.2 1111.8,372.7" fill="#D3FFBE"/>
<polygon points="1126.8,360.1 1133.5,356.8 1135.2,366.8 1133.5,374.3 1126.8,376.8 1125.1,366.8" fill="#FFEBAF"/>
<polygon points="1133.5,330.1 1140.2,325.1 1146.9,329.2 1153.5,330.1 1163.6,329.2 1169.4,334.2 1171.1,341.8 1172.7,348.4 1170.2,353.4 1171.1,358.5 1169.4,366.8 1167.7,374.3 1160.2,373.5 1150.2,375.2 1143.5,375.2 1136.8,374.3 1133.5,370.2 1133.5,363.5 1135.2,355.1 1135.2,343.4" fill="#FFBEBE"/>
<polygon points="1153.5,333.4 1163.6,333.4 1166.9,341.8 1160.2,343.4 1155.2,340.1" fill="#FFEBAF"/>
<polygon points="1095.1,333.4 1101.8,330.9 1111.8,332.6 1113.4,338.4 1111.8,343.4 1115.1,346.8 1113.4,351.8 1106.8,353.4 1101.8,350.1 1096.7,348.4 1094.2,343.4 1095.9,338.4" fill="#0070FF"/>
<polygon points="1107.6,325.9 1116.8,325.1 1117.6,329.2 1108.4,329.7" fill="#0070FF"/>
<polygon points="1126.8,342.6 1131.8,341.8 1131.8,346.8 1126.8,346.8" fill="#0070FF"/>
<polygon points="1146.9,329.7 1153.5,330.1 1163.6,329.7 1167.2,333.4 1164.4,335.9 1158.5,334.2 1153.5,333.4 1148.5,332.6" fill="#FF0000"/>
<polygon points="1143.5,353.4 1150.2,352.6 1156.9,353.4 1163.6,356.0 1166.9,351.8 1166.9,348.4 1171.6,347.6 1169.9,355.1 1166.9,359.3 1160.2,361.0 1153.5,361.8 1146.9,361.0 1143.5,357.6" fill="#FF0000"/>
<polygon points="1141.8,346.8 1145.2,346.8 1145.2,349.3 1141.8,349.3" fill="#FF0000"/>
<polygon points="1130.2,393.5 1131.0,388.5 1133.5,384.3 1136.8,380.2 1141.8,378.5 1145.2,380.2 1146.9,384.3 1151.0,382.7 1156.0,381.0 1159.4,386.9 1161.1,395.2 1156.0,400.2 1153.5,404.4 1151.0,410.2 1148.5,416.9 1145.2,422.8 1141.8,425.3 1138.5,421.9 1135.2,416.9 1131.0,413.6 1129.3,408.6 1126.8,403.6 1129.3,398.5" fill="#FFBEBE"/>
<polygon points="1105.1,391.0 1108.4,386.9 1113.4,385.2 1118.5,386.0 1122.6,389.4 1126.8,393.5 1129.8,398.5 1126.8,404.4 1124.3,400.2 1120.1,397.7 1115.1,395.2 1110.1,394.4" fill="#BED2FF"/>
<polygon points="1110.1,388.5 1116.8,387.7 1121.8,391.9 1126.0,396.9 1123.5,398.5 1118.5,395.2 1113.4,392.7" fill="#0070FF"/>
<polygon points="1127.6,415.2 1131.8,414.4 1138.5,418.6 1143.5,423.6 1142.7,427.8 1138.5,429.4 1133.5,427.8 1130.2,422.8" fill="#BED2FF"/>
<polygon points="1128.5,416.9 1131.8,416.9 1135.2,421.1 1138.5,425.3 1136.8,427.8 1133.5,426.9 1130.2,421.9" fill="#0070FF"/>
</g>
<path d="M1076.7 350.1 L1078.4 345.1 L1081.7 339.3 L1086.7 333.4 L1091.7 330.9 L1098.4 330.1 L1105.1 329.2 L1108.4 325.1 L1111.8 320.9 L1118.5 319.2 L1126.8 319.7 L1133.5 322.5 L1140.2 325.9 L1146.9 330.1 L1153.5 330.9 L1163.6 330.1 L1168.6 334.2 L1170.2 341.8 L1171.9 348.4 L1169.4 353.4 L1170.2 358.5 L1168.6 366.8 L1168.9 373.5 L1171.9 378.5 L1175.2 385.2 L1178.6 391.0 L1181.9 393.5 L1183.6 398.5 L1188.6 401.9 L1192.0 405.2 L1198.6 407.7 L1205.3 407.7 L1210.3 405.2 L1215.3 400.2 L1220.3 395.2 L1224.5 388.5 L1228.7 382.7 L1232.0 377.7 L1235.4 374.3 L1243.7 372.7 L1252.1 371.0 L1258.8 368.5 L1256.3 364.3 L1255.4 361.0 L1263.8 356.8 L1270.5 353.4 L1277.1 350.9 L1282.1 353.4 L1290.0 361.2 L1300.0 366.2 L1310.0 368.8 L1322.5 372.5 L1335.0 376.2 L1345.0 380.0 L1360.0 379.5 L1360.0 561.2 L1355.8 561.2 L1347.5 555.0 L1342.5 550.0 L1335.0 547.5 L1330.0 543.8 L1322.5 545.0 L1315.0 547.5 L1311.2 550.0 L1310.0 553.8 L1306.2 552.5 L1300.0 553.8 L1290.0 555.0 L1280.0 556.2 L1271.2 556.2 L1272.5 550.0 L1276.2 542.5 L1281.2 533.8 L1287.5 527.5 L1296.2 525.0 L1303.8 524.5 L1301.2 518.8 L1298.8 512.5 L1301.2 506.2 L1297.5 500.0 L1293.8 492.5 L1288.8 482.5 L1282.5 473.8 L1275.0 466.2 L1267.5 460.0 L1258.8 455.0 L1250.0 450.0 L1240.0 445.0 L1231.2 441.2 L1222.5 438.8 L1213.8 437.5 L1205.0 437.5 L1198.8 435.0 L1196.1 435.3 L1193.6 432.0 L1188.6 429.4 L1184.4 426.9 L1180.3 424.4 L1175.2 425.3 L1171.1 424.4 L1166.9 421.9 L1163.6 418.6 L1160.2 415.2 L1157.7 411.9 L1156.0 408.6 L1157.7 403.6 L1160.2 398.5 L1161.1 394.4 L1158.5 396.9 L1156.0 400.2 L1153.5 404.4 L1151.0 410.2 L1148.5 416.9 L1145.2 422.8 L1141.8 426.9 L1138.5 428.6 L1133.5 426.9 L1130.2 421.9 L1128.5 416.1 L1131.0 413.6 L1129.3 408.6 L1126.8 403.6 L1124.3 399.4 L1120.1 396.9 L1115.1 394.4 L1110.1 393.5 L1105.9 391.0 L1108.4 387.7 L1113.4 386.0 L1118.5 386.9 L1122.6 390.2 L1126.8 394.4 L1129.3 398.5 L1130.2 393.5 L1131.0 388.5 L1133.5 384.3 L1136.8 381.0 L1141.8 379.3 L1145.2 381.0 L1146.9 385.2 L1151.0 383.5 L1156.0 381.8 L1160.2 378.5 L1164.4 376.0 L1166.9 373.8 L1160.2 372.7 L1155.2 373.5 L1150.2 374.3 L1143.5 374.3 L1136.8 373.5 L1131.8 375.2 L1126.8 376.0 L1121.8 374.3 L1116.8 375.2 L1111.8 371.8 L1107.6 367.6 L1105.1 363.5 L1102.6 358.5 L1098.4 354.3 L1093.4 350.1 L1088.4 351.8 L1083.4 350.1 L1080.0 351.8Z" fill="none" stroke="#6E6E6E" stroke-width="0.80" stroke-linejoin="round"/>
<path d="M1204.5 327.6 L1210.3 326.7 L1213.7 330.1 L1217.8 329.2 L1222.9 332.6 L1227.0 336.7 L1232.0 340.1 L1230.4 343.4 L1225.4 344.3 L1220.3 342.6 L1217.0 338.4 L1212.8 335.1 L1207.8 332.6Z" fill="#FFEBAF"/>
<path d="M1204.5 327.6 L1210.3 326.7 L1213.7 330.1 L1217.8 329.2 L1222.9 332.6 L1227.0 336.7 L1232.0 340.1 L1230.4 343.4 L1225.4 344.3 L1220.3 342.6 L1217.0 338.4 L1212.8 335.1 L1207.8 332.6Z" fill="none" stroke="#6E6E6E" stroke-width="0.80" stroke-linejoin="round"/>
<path d="M1188.9 338.1 L1191.1 336.7 L1193.3 338.1 L1193.3 340.9 L1191.1 342.1 L1188.9 340.9Z" fill="#FFFFFF"/>
<path d="M1188.9 338.1 L1191.1 336.7 L1193.3 338.1 L1193.3 340.9 L1191.1 342.1 L1188.9 340.9Z" fill="none" stroke="#6E6E6E" stroke-width="1.20" stroke-linejoin="round"/>
<path d="M1207.0 356.0 L1215.3 356.8 L1225.4 357.6 L1235.4 358.5 L1245.4 359.3 L1250.4 361.0 L1243.7 362.6 L1237.1 364.3 L1230.4 363.5 L1223.7 361.8 L1217.0 359.3 L1210.3 357.6Z" fill="#D3FFBE"/>
<path d="M1207.0 356.0 L1215.3 356.8 L1225.4 357.6 L1235.4 358.5 L1245.4 359.3 L1250.4 361.0 L1243.7 362.6 L1237.1 364.3 L1230.4 363.5 L1223.7 361.8 L1217.0 359.3 L1210.3 357.6Z" fill="none" stroke="#6E6E6E" stroke-width="0.80" stroke-linejoin="round"/>
<path d="M1179.4 376.8 L1182.8 378.5 L1183.6 386.9 L1181.1 390.2 L1178.9 385.2Z" fill="#FFEBAF"/>
<path d="M1179.4 376.8 L1182.8 378.5 L1183.6 386.9 L1181.1 390.2 L1178.9 385.2Z" fill="none" stroke="#6E6E6E" stroke-width="0.80" stroke-linejoin="round"/>
<clipPath id="c_waigeo"><path d="M1060.8 312.5 L1066.7 310.0 L1073.4 308.4 L1081.7 310.9 L1086.7 314.2 L1085.1 318.4 L1078.4 319.2 L1073.4 321.7 L1066.7 323.4 L1061.7 321.7Z"/></clipPath>
<path d="M1060.8 312.5 L1066.7 310.0 L1073.4 308.4 L1081.7 310.9 L1086.7 314.2 L1085.1 318.4 L1078.4 319.2 L1073.4 321.7 L1066.7 323.4 L1061.7 321.7Z" fill="#BED2FF"/>
<g clip-path="url(#c_waigeo)">
<polygon points="1074.2,311.7 1082.5,312.5 1082.5,316.7 1075.0,317.5" fill="#0070FF"/>
</g>
<path d="M1060.8 312.5 L1066.7 310.0 L1073.4 308.4 L1081.7 310.9 L1086.7 314.2 L1085.1 318.4 L1078.4 319.2 L1073.4 321.7 L1066.7 323.4 L1061.7 321.7Z" fill="none" stroke="#6E6E6E" stroke-width="0.80" stroke-linejoin="round"/>
<path d="M1069.2 337.6 L1075.0 335.9 L1079.2 339.3 L1078.4 345.1 L1074.2 348.4 L1070.0 345.9 L1068.4 341.8Z" fill="#BED2FF"/>
<path d="M1069.2 337.6 L1075.0 335.9 L1079.2 339.3 L1078.4 345.1 L1074.2 348.4 L1070.0 345.9 L1068.4 341.8Z" fill="none" stroke="#6E6E6E" stroke-width="0.80" stroke-linejoin="round"/>
<path d="M1060.8 333.4 L1070.0 330.9 L1075.0 331.7 L1068.4 335.1 L1061.7 335.9Z" fill="#0070FF"/>
<path d="M1060.8 333.4 L1070.0 330.9 L1075.0 331.7 L1068.4 335.1 L1061.7 335.9Z" fill="none" stroke="#4a5a7a" stroke-width="0.80" stroke-linejoin="round"/>
<clipPath id="c_java"><path d="M347.5 482.5 L353.8 485.0 L362.5 485.0 L368.8 487.5 L376.2 483.8 L386.2 485.0 L390.0 488.8 L396.2 491.2 L403.8 490.0 L410.0 493.8 L416.2 492.5 L420.0 498.8 L423.8 503.8 L428.8 507.5 L437.5 507.5 L445.0 508.8 L451.2 507.5 L460.0 510.0 L468.8 511.2 L475.0 510.0 L481.2 505.0 L483.8 498.8 L488.8 496.2 L495.0 497.5 L496.2 502.5 L502.5 503.8 L510.0 506.2 L517.5 507.5 L527.5 510.0 L536.2 508.8 L540.0 511.2 L542.5 515.0 L545.0 522.5 L547.5 528.8 L552.5 532.5 L560.0 535.0 L570.0 535.0 L578.8 533.0 L585.0 533.8 L592.5 536.2 L593.8 542.5 L591.2 547.5 L592.5 556.2 L597.5 561.2 L598.8 563.8 L595.0 565.0 L590.0 561.2 L582.5 560.0 L575.0 556.2 L565.0 553.8 L556.2 552.5 L547.5 553.8 L537.5 553.8 L527.5 552.5 L517.5 552.5 L510.0 551.2 L500.0 550.0 L490.0 548.8 L482.5 547.5 L475.0 543.8 L467.5 540.0 L460.0 537.5 L450.0 536.2 L440.0 535.0 L431.2 535.0 L423.8 533.8 L417.5 536.2 L410.0 535.0 L402.5 532.5 L395.0 530.0 L385.0 527.5 L375.0 526.2 L366.2 525.0 L358.8 522.5 L357.5 517.5 L360.0 512.5 L358.8 507.5 L350.0 508.8 L341.2 508.8 L333.8 507.5 L337.5 501.2 L342.5 497.5 L343.8 490.0Z"/></clipPath>
<path d="M347.5 482.5 L353.8 485.0 L362.5 485.0 L368.8 487.5 L376.2 483.8 L386.2 485.0 L390.0 488.8 L396.2 491.2 L403.8 490.0 L410.0 493.8 L416.2 492.5 L420.0 498.8 L423.8 503.8 L428.8 507.5 L437.5 507.5 L445.0 508.8 L451.2 507.5 L460.0 510.0 L468.8 511.2 L475.0 510.0 L481.2 505.0 L483.8 498.8 L488.8 496.2 L495.0 497.5 L496.2 502.5 L502.5 503.8 L510.0 506.2 L517.5 507.5 L527.5 510.0 L536.2 508.8 L540.0 511.2 L542.5 515.0 L545.0 522.5 L547.5 528.8 L552.5 532.5 L560.0 535.0 L570.0 535.0 L578.8 533.0 L585.0 533.8 L592.5 536.2 L593.8 542.5 L591.2 547.5 L592.5 556.2 L597.5 561.2 L598.8 563.8 L595.0 565.0 L590.0 561.2 L582.5 560.0 L575.0 556.2 L565.0 553.8 L556.2 552.5 L547.5 553.8 L537.5 553.8 L527.5 552.5 L517.5 552.5 L510.0 551.2 L500.0 550.0 L490.0 548.8 L482.5 547.5 L475.0 543.8 L467.5 540.0 L460.0 537.5 L450.0 536.2 L440.0 535.0 L431.2 535.0 L423.8 533.8 L417.5 536.2 L410.0 535.0 L402.5 532.5 L395.0 530.0 L385.0 527.5 L375.0 526.2 L366.2 525.0 L358.8 522.5 L357.5 517.5 L360.0 512.5 L358.8 507.5 L350.0 508.8 L341.2 508.8 L333.8 507.5 L337.5 501.2 L342.5 497.5 L343.8 490.0Z" fill="#FFBEBE"/>
<g clip-path="url(#c_java)">
<polygon points="330.0,481.2 347.5,481.2 350.0,490.0 360.0,493.8 360.0,512.5 350.0,511.2 330.0,511.2" fill="#BED2FF"/>
<polygon points="360.0,493.8 375.0,490.0 392.5,492.5 410.0,497.5 420.0,502.5 423.8,512.5 420.0,522.5 410.0,520.0 402.5,525.0 395.0,531.2 375.0,527.5 357.5,523.8 356.2,515.0" fill="#D3FFBE"/>
<polygon points="361.2,502.5 375.0,497.5 385.0,498.8 397.5,505.0 395.0,515.0 385.0,515.0 375.0,512.5 365.0,510.0" fill="#FFEBAF"/>
<polygon points="347.5,481.2 376.2,482.5 396.2,490.0 416.2,491.2 423.8,503.8 420.0,502.5 410.0,497.5 392.5,493.8 375.0,491.2 360.0,493.8 350.0,490.0" fill="#FFBEBE"/>
<polygon points="423.8,512.5 440.0,511.2 460.0,512.5 475.0,515.0 470.0,525.0 465.0,535.0 460.0,538.8 458.8,525.0 452.5,517.5 440.0,515.8 427.5,517.0" fill="#D3FFBE"/>
<polygon points="460.0,513.8 475.0,515.0 480.0,522.5 472.5,530.0 466.2,532.5 461.2,525.0" fill="#FFEBAF"/>
<polygon points="402.5,525.0 410.0,518.8 420.0,520.0 427.5,517.5 440.0,516.2 452.5,517.5 460.0,525.0 457.5,535.0 450.0,537.5 431.2,536.2 417.5,537.5 407.5,535.0" fill="#BED2FF"/>
<polygon points="403.8,531.2 408.8,531.2 408.8,534.5 403.8,534.5" fill="#0070FF"/>
<polygon points="418.8,531.2 423.8,531.2 423.8,534.5 418.8,534.5" fill="#0070FF"/>
<polygon points="361.2,484.5 368.8,487.0 376.2,482.5 386.2,484.0 390.0,488.8 382.5,488.0 376.2,488.8 370.0,491.2 363.8,488.8" fill="#FF0000"/>
<polygon points="432.5,506.2 438.8,506.2 438.8,510.0 432.5,510.0" fill="#FF0000"/>
<polygon points="493.8,500.8 502.5,503.2 510.0,505.0 517.5,506.5 527.5,509.0 536.2,507.5 540.5,510.8 543.0,514.5 545.5,522.0 548.0,528.2 553.0,531.8 560.0,534.2 570.0,534.2 578.8,532.0 585.0,532.8 593.5,535.8 594.8,543.0 591.2,546.2 587.5,540.0 580.0,538.0 570.0,538.8 560.0,538.8 550.0,537.5 542.5,533.8 535.0,532.5 530.0,537.5 525.0,542.5 518.8,545.0 516.2,535.0 517.5,525.0 515.0,515.0 510.0,508.8 501.2,506.2 495.0,504.5" fill="#FF0000"/>
<polygon points="532.5,537.5 540.0,536.2 545.0,542.5 540.0,550.0 533.8,547.5" fill="#FFEBAF"/>
<polygon points="547.5,540.0 557.5,540.0 557.5,546.2 548.8,546.2" fill="#FFEBAF"/>
<polygon points="565.0,540.0 572.5,540.0 573.8,547.5 566.2,548.8" fill="#FFEBAF"/>
<polygon points="578.8,542.5 585.0,541.2 586.2,550.0 580.0,551.2" fill="#FFEBAF"/>
<polygon points="491.2,545.0 497.5,543.8 498.8,550.0 492.5,550.0" fill="#D3FFBE"/>
</g>
<polyline points="360.0,493.8 358.8,500.0 361.2,506.2 358.8,512.5 358.8,522.5" fill="none" stroke="#55603e" stroke-width="0.8"/>
<polyline points="428.8,507.5 427.5,515.0 422.5,520.0 425.0,527.5 431.2,535.0" fill="none" stroke="#55603e" stroke-width="0.8"/>
<polyline points="496.2,502.5 510.0,512.5 508.8,520.0 497.5,522.5 498.8,535.0 505.0,540.0 500.0,550.0" fill="none" stroke="#55603e" stroke-width="0.8"/>
<polyline points="466.2,538.8 468.8,533.8 476.2,531.2 480.0,536.2 487.5,537.5 490.0,548.8" fill="none" stroke="#55603e" stroke-width="0.8"/>
<path d="M347.5 482.5 L353.8 485.0 L362.5 485.0 L368.8 487.5 L376.2 483.8 L386.2 485.0 L390.0 488.8 L396.2 491.2 L403.8 490.0 L410.0 493.8 L416.2 492.5 L420.0 498.8 L423.8 503.8 L428.8 507.5 L437.5 507.5 L445.0 508.8 L451.2 507.5 L460.0 510.0 L468.8 511.2 L475.0 510.0 L481.2 505.0 L483.8 498.8 L488.8 496.2 L495.0 497.5 L496.2 502.5 L502.5 503.8 L510.0 506.2 L517.5 507.5 L527.5 510.0 L536.2 508.8 L540.0 511.2 L542.5 515.0 L545.0 522.5 L547.5 528.8 L552.5 532.5 L560.0 535.0 L570.0 535.0 L578.8 533.0 L585.0 533.8 L592.5 536.2 L593.8 542.5 L591.2 547.5 L592.5 556.2 L597.5 561.2 L598.8 563.8 L595.0 565.0 L590.0 561.2 L582.5 560.0 L575.0 556.2 L565.0 553.8 L556.2 552.5 L547.5 553.8 L537.5 553.8 L527.5 552.5 L517.5 552.5 L510.0 551.2 L500.0 550.0 L490.0 548.8 L482.5 547.5 L475.0 543.8 L467.5 540.0 L460.0 537.5 L450.0 536.2 L440.0 535.0 L431.2 535.0 L423.8 533.8 L417.5 536.2 L410.0 535.0 L402.5 532.5 L395.0 530.0 L385.0 527.5 L375.0 526.2 L366.2 525.0 L358.8 522.5 L357.5 517.5 L360.0 512.5 L358.8 507.5 L350.0 508.8 L341.2 508.8 L333.8 507.5 L337.5 501.2 L342.5 497.5 L343.8 490.0Z" fill="none" stroke="#6E6E6E" stroke-width="0.80" stroke-linejoin="round"/>
<path d="M543.8 513.8 L550.0 511.2 L560.0 510.8 L570.0 510.8 L581.2 510.5 L583.8 513.0 L580.0 516.2 L570.0 518.8 L560.0 520.0 L550.0 519.5 L543.8 517.5Z" fill="#FF0000"/>
<path d="M543.8 513.8 L550.0 511.2 L560.0 510.8 L570.0 510.8 L581.2 510.5 L583.8 513.0 L580.0 516.2 L570.0 518.8 L560.0 520.0 L550.0 519.5 L543.8 517.5Z" fill="none" stroke="#a03030" stroke-width="0.80" stroke-linejoin="round"/>
<clipPath id="c_bali"><path d="M595.0 547.5 L603.8 547.0 L612.5 545.0 L621.2 546.2 L628.8 551.2 L630.0 555.0 L622.5 557.5 L617.5 562.5 L613.8 566.2 L611.2 561.2 L605.0 556.2 L597.5 552.5Z"/></clipPath>
<path d="M595.0 547.5 L603.8 547.0 L612.5 545.0 L621.2 546.2 L628.8 551.2 L630.0 555.0 L622.5 557.5 L617.5 562.5 L613.8 566.2 L611.2 561.2 L605.0 556.2 L597.5 552.5Z" fill="#FFBEBE"/>
<g clip-path="url(#c_bali)">
<polygon points="611.2,544.5 621.2,545.5 629.5,551.2 622.5,552.5 616.2,550.0" fill="#FF0000"/>
<polygon points="616.2,553.8 621.2,553.8 620.0,557.5 616.2,557.0" fill="#FFEBAF"/>
</g>
<path d="M595.0 547.5 L603.8 547.0 L612.5 545.0 L621.2 546.2 L628.8 551.2 L630.0 555.0 L622.5 557.5 L617.5 562.5 L613.8 566.2 L611.2 561.2 L605.0 556.2 L597.5 552.5Z" fill="none" stroke="#6E6E6E" stroke-width="0.80" stroke-linejoin="round"/>
<path d="M622.5 562.0 L627.5 562.0 L628.0 565.0 L623.0 565.5Z" fill="#FF0000"/>
<path d="M622.5 562.0 L627.5 562.0 L628.0 565.0 L623.0 565.5Z" fill="none" stroke="#a03030" stroke-width="0.80" stroke-linejoin="round"/>
<path d="M616.2 508.8 L622.5 508.0 L628.8 510.0 L635.0 512.5 L636.2 515.0 L630.0 514.5 L622.5 512.5 L617.0 511.2Z" fill="#b5b5b5"/>
<path d="M616.2 508.8 L622.5 508.0 L628.8 510.0 L635.0 512.5 L636.2 515.0 L630.0 514.5 L622.5 512.5 L617.0 511.2Z" fill="none" stroke="#6E6E6E" stroke-width="1.00" stroke-linejoin="round"/>
<path d="M539.5 477.0 L543.0 476.2 L544.0 479.5 L540.5 480.0Z" fill="#FFFFFF"/>
<path d="M539.5 477.0 L543.0 476.2 L544.0 479.5 L540.5 480.0Z" fill="none" stroke="#6E6E6E" stroke-width="1.00" stroke-linejoin="round"/>
<clipPath id="c_lombok"><path d="M641.2 552.5 L648.8 550.0 L657.5 550.0 L661.2 553.8 L658.8 560.0 L656.2 566.2 L652.5 568.8 L645.0 567.5 L637.5 567.5 L635.0 565.0 L641.2 562.5 L642.5 557.5Z"/></clipPath>
<path d="M641.2 552.5 L648.8 550.0 L657.5 550.0 L661.2 553.8 L658.8 560.0 L656.2 566.2 L652.5 568.8 L645.0 567.5 L637.5 567.5 L635.0 565.0 L641.2 562.5 L642.5 557.5Z" fill="#FF0000"/>
<g clip-path="url(#c_lombok)">
<polygon points="642.5,552.5 657.5,551.2 658.8,557.5 650.0,558.8 643.8,560.0" fill="#FFBEBE"/>
</g>
<path d="M641.2 552.5 L648.8 550.0 L657.5 550.0 L661.2 553.8 L658.8 560.0 L656.2 566.2 L652.5 568.8 L645.0 567.5 L637.5 567.5 L635.0 565.0 L641.2 562.5 L642.5 557.5Z" fill="none" stroke="#6E6E6E" stroke-width="0.80" stroke-linejoin="round"/>
<clipPath id="c_sumbawa"><path d="M661.2 561.2 L665.0 556.2 L672.5 553.8 L682.5 552.5 L685.0 547.5 L693.8 545.0 L701.2 546.2 L703.8 551.2 L710.0 550.0 L717.5 551.2 L725.0 550.0 L727.5 553.8 L726.2 560.0 L728.8 563.8 L722.5 566.2 L717.5 563.8 L712.5 567.5 L707.5 563.8 L702.5 565.0 L695.0 566.2 L690.0 570.0 L685.0 572.5 L677.5 572.5 L670.0 573.8 L663.8 571.2 L661.2 566.2Z"/></clipPath>
<path d="M661.2 561.2 L665.0 556.2 L672.5 553.8 L682.5 552.5 L685.0 547.5 L693.8 545.0 L701.2 546.2 L703.8 551.2 L710.0 550.0 L717.5 551.2 L725.0 550.0 L727.5 553.8 L726.2 560.0 L728.8 563.8 L722.5 566.2 L717.5 563.8 L712.5 567.5 L707.5 563.8 L702.5 565.0 L695.0 566.2 L690.0 570.0 L685.0 572.5 L677.5 572.5 L670.0 573.8 L663.8 571.2 L661.2 566.2Z" fill="#FF0000"/>
<g clip-path="url(#c_sumbawa)">
<polygon points="666.2,557.5 675.0,555.0 677.5,562.5 668.8,563.8" fill="#FFBEBE"/>
<polygon points="688.8,547.5 700.0,547.0 700.0,551.2 690.0,551.2" fill="#FFBEBE"/>
<polygon points="686.2,550.0 695.0,556.2 705.0,560.0 698.8,562.5 690.0,558.8 685.0,555.0" fill="#FFFFFF"/>
</g>
<path d="M661.2 561.2 L665.0 556.2 L672.5 553.8 L682.5 552.5 L685.0 547.5 L693.8 545.0 L701.2 546.2 L703.8 551.2 L710.0 550.0 L717.5 551.2 L725.0 550.0 L727.5 553.8 L726.2 560.0 L728.8 563.8 L722.5 566.2 L717.5 563.8 L712.5 567.5 L707.5 563.8 L702.5 565.0 L695.0 566.2 L690.0 570.0 L685.0 572.5 L677.5 572.5 L670.0 573.8 L663.8 571.2 L661.2 566.2Z" fill="none" stroke="#6E6E6E" stroke-width="0.80" stroke-linejoin="round"/>
<path d="M733.8 556.2 L738.8 556.2 L740.0 563.8 L735.0 563.8Z" fill="#FFFFFF"/>
<path d="M733.8 556.2 L738.8 556.2 L740.0 563.8 L735.0 563.8Z" fill="none" stroke="#6E6E6E" stroke-width="1.00" stroke-linejoin="round"/>
<path d="M742.5 557.5 L747.5 557.5 L747.5 565.0 L743.0 564.5Z" fill="#FFFFFF"/>
<path d="M742.5 557.5 L747.5 557.5 L747.5 565.0 L743.0 564.5Z" fill="none" stroke="#6E6E6E" stroke-width="1.00" stroke-linejoin="round"/>
<clipPath id="c_flores"><path d="M750.0 557.5 L755.0 553.8 L762.5 551.2 L772.5 551.2 L780.0 552.5 L787.5 555.0 L795.0 557.5 L802.5 560.0 L810.0 558.8 L817.5 560.0 L825.0 557.5 L833.8 555.0 L837.5 551.2 L840.0 547.5 L843.8 550.0 L841.2 556.2 L836.2 560.0 L827.5 562.5 L820.0 563.8 L812.5 565.0 L807.5 567.5 L800.0 567.5 L792.5 566.2 L786.2 570.0 L777.5 568.8 L770.0 567.5 L762.5 568.8 L755.0 566.2 L751.2 562.5Z"/></clipPath>
<path d="M750.0 557.5 L755.0 553.8 L762.5 551.2 L772.5 551.2 L780.0 552.5 L787.5 555.0 L795.0 557.5 L802.5 560.0 L810.0 558.8 L817.5 560.0 L825.0 557.5 L833.8 555.0 L837.5 551.2 L840.0 547.5 L843.8 550.0 L841.2 556.2 L836.2 560.0 L827.5 562.5 L820.0 563.8 L812.5 565.0 L807.5 567.5 L800.0 567.5 L792.5 566.2 L786.2 570.0 L777.5 568.8 L770.0 567.5 L762.5 568.8 L755.0 566.2 L751.2 562.5Z" fill="#FF0000"/>
<g clip-path="url(#c_flores)">
<polygon points="762.5,552.5 775.0,552.5 776.2,560.0 772.5,565.0 763.8,563.8" fill="#FFBEBE"/>
<polygon points="767.5,557.5 773.8,557.5 773.8,562.5 768.0,562.5" fill="#FFEBAF"/>
<polygon points="805.0,561.2 817.5,560.0 818.8,563.8 807.5,566.2" fill="#FFBEBE"/>
<polygon points="751.2,557.5 757.5,555.5 758.0,565.0 752.5,564.5" fill="#FFBEBE"/>
</g>
<path d="M750.0 557.5 L755.0 553.8 L762.5 551.2 L772.5 551.2 L780.0 552.5 L787.5 555.0 L795.0 557.5 L802.5 560.0 L810.0 558.8 L817.5 560.0 L825.0 557.5 L833.8 555.0 L837.5 551.2 L840.0 547.5 L843.8 550.0 L841.2 556.2 L836.2 560.0 L827.5 562.5 L820.0 563.8 L812.5 565.0 L807.5 567.5 L800.0 567.5 L792.5 566.2 L786.2 570.0 L777.5 568.8 L770.0 567.5 L762.5 568.8 L755.0 566.2 L751.2 562.5Z" fill="none" stroke="#6E6E6E" stroke-width="0.80" stroke-linejoin="round"/>
<path d="M845.0 550.0 L853.8 548.0 L857.5 552.5 L850.0 556.2 L846.2 554.5Z" fill="#FF0000"/>
<path d="M845.0 550.0 L853.8 548.0 L857.5 552.5 L850.0 556.2 L846.2 554.5Z" fill="none" stroke="#a03030" stroke-width="0.80" stroke-linejoin="round"/>
<path d="M858.8 550.0 L868.8 548.0 L872.5 551.2 L867.5 556.2 L860.0 557.0Z" fill="#FF0000"/>
<path d="M858.8 550.0 L868.8 548.0 L872.5 551.2 L867.5 556.2 L860.0 557.0Z" fill="none" stroke="#a03030" stroke-width="0.80" stroke-linejoin="round"/>
<path d="M875.0 550.0 L881.2 548.8 L881.2 555.5 L876.2 556.2Z" fill="#FF0000"/>
<path d="M875.0 550.0 L881.2 548.8 L881.2 555.5 L876.2 556.2Z" fill="none" stroke="#a03030" stroke-width="0.80" stroke-linejoin="round"/>
<clipPath id="c_alor"><path d="M883.8 548.0 L895.0 546.8 L905.5 547.5 L906.2 551.2 L896.2 553.2 L886.2 553.8Z"/></clipPath>
<path d="M883.8 548.0 L895.0 546.8 L905.5 547.5 L906.2 551.2 L896.2 553.2 L886.2 553.8Z" fill="#FF0000"/>
<g clip-path="url(#c_alor)">
<polygon points="890.0,548.8 900.0,548.2 900.0,550.5 890.0,551.0" fill="#FFBEBE"/>
</g>
<path d="M883.8 548.0 L895.0 546.8 L905.5 547.5 L906.2 551.2 L896.2 553.2 L886.2 553.8Z" fill="none" stroke="#a03030" stroke-width="0.80" stroke-linejoin="round"/>
<clipPath id="c_sumba"><path d="M725.0 586.2 L730.0 583.8 L740.0 582.5 L750.0 581.2 L755.0 582.5 L760.0 587.5 L766.2 591.2 L773.8 595.0 L780.0 600.0 L780.0 605.0 L775.0 608.0 L767.5 608.8 L762.5 610.0 L757.5 606.2 L752.5 602.5 L745.0 597.5 L737.5 593.8 L730.0 591.2Z"/></clipPath>
<path d="M725.0 586.2 L730.0 583.8 L740.0 582.5 L750.0 581.2 L755.0 582.5 L760.0 587.5 L766.2 591.2 L773.8 595.0 L780.0 600.0 L780.0 605.0 L775.0 608.0 L767.5 608.8 L762.5 610.0 L757.5 606.2 L752.5 602.5 L745.0 597.5 L737.5 593.8 L730.0 591.2Z" fill="#FF0000"/>
<g clip-path="url(#c_sumba)">
<polygon points="768.0,590.8 775.0,594.5 781.0,600.5 780.5,605.5 775.5,608.0 774.2,600.0" fill="#FFFFFF"/>
</g>
<path d="M725.0 586.2 L730.0 583.8 L740.0 582.5 L750.0 581.2 L755.0 582.5 L760.0 587.5 L766.2 591.2 L773.8 595.0 L780.0 600.0 L780.0 605.0 L775.0 608.0 L767.5 608.8 L762.5 610.0 L757.5 606.2 L752.5 602.5 L745.0 597.5 L737.5 593.8 L730.0 591.2Z" fill="none" stroke="#6E6E6E" stroke-width="0.80" stroke-linejoin="round"/>
<clipPath id="c_timor"><path d="M852.5 607.5 L860.0 603.8 L862.5 595.0 L868.8 587.5 L875.0 582.5 L883.8 578.8 L891.2 575.0 L900.0 571.2 L906.2 571.2 L907.5 576.2 L903.8 582.5 L900.0 590.0 L893.8 596.2 L887.5 601.2 L880.0 605.0 L872.5 608.8 L865.0 611.2 L857.5 611.2Z"/></clipPath>
<path d="M852.5 607.5 L860.0 603.8 L862.5 595.0 L868.8 587.5 L875.0 582.5 L883.8 578.8 L891.2 575.0 L900.0 571.2 L906.2 571.2 L907.5 576.2 L903.8 582.5 L900.0 590.0 L893.8 596.2 L887.5 601.2 L880.0 605.0 L872.5 608.8 L865.0 611.2 L857.5 611.2Z" fill="#FF0000"/>
<g clip-path="url(#c_timor)">
<polygon points="900.0,570.0 908.0,570.0 908.8,577.0 902.5,578.8" fill="#FFBEBE"/>
<polygon points="875.0,587.5 880.0,587.5 880.0,592.5 875.0,592.5" fill="#FFBEBE"/>
</g>
<path d="M852.5 607.5 L860.0 603.8 L862.5 595.0 L868.8 587.5 L875.0 582.5 L883.8 578.8 L891.2 575.0 L900.0 571.2 L906.2 571.2 L907.5 576.2 L903.8 582.5 L900.0 590.0 L893.8 596.2 L887.5 601.2 L880.0 605.0 L872.5 608.8 L865.0 611.2 L857.5 611.2Z" fill="none" stroke="#6E6E6E" stroke-width="0.80" stroke-linejoin="round"/>
<path d="M835.0 623.8 L840.0 621.2 L847.5 617.5 L855.0 613.8 L856.2 617.5 L850.0 622.5 L842.5 627.5 L837.5 628.8Z" fill="#FF0000"/>
<path d="M835.0 623.8 L840.0 621.2 L847.5 617.5 L855.0 613.8 L856.2 617.5 L850.0 622.5 L842.5 627.5 L837.5 628.8Z" fill="none" stroke="#7a3030" stroke-width="0.80" stroke-linejoin="round"/>
<path d="M801.2 618.8 L807.5 615.0 L813.8 613.8 L815.0 617.5 L810.0 620.0 L803.8 620.5Z" fill="#FFFFFF"/>
<path d="M801.2 618.8 L807.5 615.0 L813.8 613.8 L815.0 617.5 L810.0 620.0 L803.8 620.5Z" fill="none" stroke="#6E6E6E" stroke-width="1.00" stroke-linejoin="round"/>
<path d="M923.8 542.5 L927.5 535.0 L935.0 533.0 L942.5 532.0 L950.0 530.5 L955.5 533.0 L953.8 537.5 L947.5 538.8 L943.8 542.5 L935.0 540.0 L927.5 542.5Z" fill="#FF0000"/>
<path d="M923.8 542.5 L927.5 535.0 L935.0 533.0 L942.5 532.0 L950.0 530.5 L955.5 533.0 L953.8 537.5 L947.5 538.8 L943.8 542.5 L935.0 540.0 L927.5 542.5Z" fill="none" stroke="#a03030" stroke-width="0.80" stroke-linejoin="round"/>
<path d="M968.8 528.0 L975.0 528.0 L977.5 531.2 L971.2 532.0Z" fill="#FF0000"/>
<path d="M968.8 528.0 L975.0 528.0 L977.5 531.2 L971.2 532.0Z" fill="none" stroke="#7a3030" stroke-width="0.80" stroke-linejoin="round"/>
<path d="M977.5 547.5 L985.0 545.5 L992.5 547.5 L991.2 550.5 L982.5 550.0Z" fill="#FF0000"/>
<path d="M977.5 547.5 L985.0 545.5 L992.5 547.5 L991.2 550.5 L982.5 550.0Z" fill="none" stroke="#7a3030" stroke-width="0.80" stroke-linejoin="round"/>
<path d="M1007.5 547.5 L1018.8 547.5 L1018.8 549.5 L1007.5 549.5Z" fill="#6E6E6E"/>
<path d="M1007.5 547.5 L1018.8 547.5 L1018.8 549.5 L1007.5 549.5Z" fill="none" stroke="#6e6e6e" stroke-width="0.80" stroke-linejoin="round"/>
<path d="M1005.0 515.5 L1009.5 515.5 L1010.0 519.5 L1005.5 519.5Z" fill="#FF0000"/>
<path d="M1005.0 515.5 L1009.5 515.5 L1010.0 519.5 L1005.5 519.5Z" fill="none" stroke="#7a3030" stroke-width="0.80" stroke-linejoin="round"/>
<path d="M1034.5 537.0 L1040.0 535.5 L1044.5 538.8 L1042.5 543.8 L1037.0 543.0Z" fill="#FF0000"/>
<path d="M1034.5 537.0 L1040.0 535.5 L1044.5 538.8 L1042.5 543.8 L1037.0 543.0Z" fill="none" stroke="#7a3030" stroke-width="0.80" stroke-linejoin="round"/>
<clipPath id="c_tanimbar"><path d="M1068.8 551.2 L1075.0 547.5 L1080.0 540.0 L1083.8 532.5 L1087.5 526.2 L1090.0 520.0 L1097.5 517.5 L1106.2 513.8 L1105.0 517.5 L1098.8 521.2 L1097.5 527.5 L1096.2 533.8 L1091.2 538.8 L1086.2 542.5 L1080.0 546.2 L1075.0 550.0Z"/></clipPath>
<path d="M1068.8 551.2 L1075.0 547.5 L1080.0 540.0 L1083.8 532.5 L1087.5 526.2 L1090.0 520.0 L1097.5 517.5 L1106.2 513.8 L1105.0 517.5 L1098.8 521.2 L1097.5 527.5 L1096.2 533.8 L1091.2 538.8 L1086.2 542.5 L1080.0 546.2 L1075.0 550.0Z" fill="#FF0000"/>
<g clip-path="url(#c_tanimbar)">
<polygon points="1093.8,525.0 1097.5,525.0 1097.0,531.2 1093.8,531.2" fill="#FFBEBE"/>
</g>
<path d="M1068.8 551.2 L1075.0 547.5 L1080.0 540.0 L1083.8 532.5 L1087.5 526.2 L1090.0 520.0 L1097.5 517.5 L1106.2 513.8 L1105.0 517.5 L1098.8 521.2 L1097.5 527.5 L1096.2 533.8 L1091.2 538.8 L1086.2 542.5 L1080.0 546.2 L1075.0 550.0Z" fill="none" stroke="#7a4040" stroke-width="0.80" stroke-linejoin="round"/>
<path d="M1092.0 504.5 L1095.0 503.8 L1093.8 512.5 L1091.2 513.0Z" fill="#6E6E6E"/>
<path d="M1092.0 504.5 L1095.0 503.8 L1093.8 512.5 L1091.2 513.0Z" fill="none" stroke="#6E6E6E" stroke-width="0.80" stroke-linejoin="round"/>
<path d="M1122.5 470.0 L1128.8 467.5 L1130.0 472.5 L1126.2 481.2 L1121.2 485.0 L1120.0 480.0Z" fill="#FFBEBE"/>
<path d="M1122.5 470.0 L1128.8 467.5 L1130.0 472.5 L1126.2 481.2 L1121.2 485.0 L1120.0 480.0Z" fill="none" stroke="#7a6a6a" stroke-width="1.00" stroke-linejoin="round"/>
<path d="M1131.2 482.5 L1136.2 472.5 L1140.8 462.5 L1142.0 463.8 L1137.5 475.0 L1133.0 484.5Z" fill="#0070FF"/>
<path d="M1131.2 482.5 L1136.2 472.5 L1140.8 462.5 L1142.0 463.8 L1137.5 475.0 L1133.0 484.5Z" fill="none" stroke="#5a6a8a" stroke-width="1.00" stroke-linejoin="round"/>
<clipPath id="c_aru"><path d="M1175.0 468.8 L1181.2 465.0 L1186.2 468.8 L1188.0 477.5 L1189.5 487.5 L1190.5 495.0 L1186.2 502.5 L1182.5 506.2 L1175.0 510.5 L1168.8 509.5 L1167.0 502.5 L1168.0 492.5 L1168.8 485.0 L1172.0 476.2Z"/></clipPath>
<path d="M1175.0 468.8 L1181.2 465.0 L1186.2 468.8 L1188.0 477.5 L1189.5 487.5 L1190.5 495.0 L1186.2 502.5 L1182.5 506.2 L1175.0 510.5 L1168.8 509.5 L1167.0 502.5 L1168.0 492.5 L1168.8 485.0 L1172.0 476.2Z" fill="#D3FFBE"/>
<g clip-path="url(#c_aru)">
<polygon points="1176.2,466.2 1187.0,468.0 1187.5,475.5 1178.8,476.8" fill="#0070FF"/>
<polygon points="1171.2,476.2 1187.5,475.5 1188.8,483.0 1172.0,484.2" fill="#FFEBAF"/>
<polygon points="1166.2,492.5 1175.0,492.5 1183.0,495.0 1181.2,506.2 1175.0,511.2 1167.0,510.0" fill="#FFBEBE"/>
</g>
<path d="M1175.0 468.8 L1181.2 465.0 L1186.2 468.8 L1188.0 477.5 L1189.5 487.5 L1190.5 495.0 L1186.2 502.5 L1182.5 506.2 L1175.0 510.5 L1168.8 509.5 L1167.0 502.5 L1168.0 492.5 L1168.8 485.0 L1172.0 476.2Z" fill="none" stroke="#6E6E6E" stroke-width="1.00" stroke-linejoin="round"/>
<clipPath id="c_simeulue"><path d="M46.9 226.9 L49.4 223.9 L53.6 225.2 L58.6 228.5 L64.4 232.7 L69.8 236.9 L69.1 240.2 L65.3 240.6 L60.2 236.9 L55.2 233.6 L50.2 231.9Z"/></clipPath>
<path d="M46.9 226.9 L49.4 223.9 L53.6 225.2 L58.6 228.5 L64.4 232.7 L69.8 236.9 L69.1 240.2 L65.3 240.6 L60.2 236.9 L55.2 233.6 L50.2 231.9Z" fill="#FFFFFF"/>
<g clip-path="url(#c_simeulue)">
<polygon points="52.7,229.9 55.7,229.9 55.7,231.9 52.7,231.9" fill="#FF0000"/>
</g>
<path d="M46.9 226.9 L49.4 223.9 L53.6 225.2 L58.6 228.5 L64.4 232.7 L69.8 236.9 L69.1 240.2 L65.3 240.6 L60.2 236.9 L55.2 233.6 L50.2 231.9Z" fill="none" stroke="#6E6E6E" stroke-width="0.90" stroke-linejoin="round"/>
<path d="M87.0 246.9 L89.5 243.6 L92.8 242.2 L96.2 241.1 L97.0 243.6 L94.5 246.9 L91.1 249.4Z" fill="#FFFFFF"/>
<path d="M87.0 246.9 L89.5 243.6 L92.8 242.2 L96.2 241.1 L97.0 243.6 L94.5 246.9 L91.1 249.4Z" fill="none" stroke="#6E6E6E" stroke-width="0.90" stroke-linejoin="round"/>
<clipPath id="c_nias"><path d="M87.0 267.8 L90.3 265.3 L96.2 264.5 L100.3 268.6 L105.3 273.6 L109.5 277.0 L112.0 280.3 L110.3 287.0 L107.8 291.2 L104.5 290.3 L102.0 285.3 L97.8 281.2 L92.8 277.0 L89.5 272.8Z"/></clipPath>
<path d="M87.0 267.8 L90.3 265.3 L96.2 264.5 L100.3 268.6 L105.3 273.6 L109.5 277.0 L112.0 280.3 L110.3 287.0 L107.8 291.2 L104.5 290.3 L102.0 285.3 L97.8 281.2 L92.8 277.0 L89.5 272.8Z" fill="#FF0000"/>
<g clip-path="url(#c_nias)">
<polygon points="104.5,281.2 112.9,279.2 111.5,287.8 107.8,292.4 103.3,290.7" fill="#FFBEBE"/>
</g>
<path d="M87.0 267.8 L90.3 265.3 L96.2 264.5 L100.3 268.6 L105.3 273.6 L109.5 277.0 L112.0 280.3 L110.3 287.0 L107.8 291.2 L104.5 290.3 L102.0 285.3 L97.8 281.2 L92.8 277.0 L89.5 272.8Z" fill="none" stroke="#6E6E6E" stroke-width="0.80" stroke-linejoin="round"/>
<path d="M120.0 307.5 L127.5 310.0 L130.0 317.5 L128.8 326.2 L123.8 325.0 L125.0 317.5 L121.2 312.5Z" fill="#FFEBAF"/>
<path d="M120.0 307.5 L127.5 310.0 L130.0 317.5 L128.8 326.2 L123.8 325.0 L125.0 317.5 L121.2 312.5Z" fill="none" stroke="#6E6E6E" stroke-width="0.90" stroke-linejoin="round"/>
<path d="M130.0 305.0 L137.5 304.5 L137.5 307.0 L130.0 307.5Z" fill="#FFEBAF"/>
<path d="M130.0 305.0 L137.5 304.5 L137.5 307.0 L130.0 307.5Z" fill="none" stroke="#6E6E6E" stroke-width="0.80" stroke-linejoin="round"/>
<clipPath id="c_siberut"><path d="M131.2 340.0 L140.0 336.2 L145.0 346.2 L150.0 356.2 L151.2 362.5 L145.0 362.5 L137.5 353.8 L132.5 346.2Z"/></clipPath>
<path d="M131.2 340.0 L140.0 336.2 L145.0 346.2 L150.0 356.2 L151.2 362.5 L145.0 362.5 L137.5 353.8 L132.5 346.2Z" fill="#D3FFBE"/>
<g clip-path="url(#c_siberut)">
<polygon points="141.2,352.5 148.8,352.5 152.5,363.8 143.8,363.8" fill="#BED2FF"/>
</g>
<path d="M131.2 340.0 L140.0 336.2 L145.0 346.2 L150.0 356.2 L151.2 362.5 L145.0 362.5 L137.5 353.8 L132.5 346.2Z" fill="none" stroke="#6E6E6E" stroke-width="0.80" stroke-linejoin="round"/>
<path d="M158.8 367.5 L162.5 366.2 L167.5 375.0 L165.0 378.8 L160.0 373.8Z" fill="#BED2FF"/>
<path d="M158.8 367.5 L162.5 366.2 L167.5 375.0 L165.0 378.8 L160.0 373.8Z" fill="none" stroke="#6E6E6E" stroke-width="0.80" stroke-linejoin="round"/>
<path d="M171.2 383.8 L175.0 382.5 L180.0 390.0 L185.0 398.8 L187.5 403.8 L183.8 405.0 L178.8 398.8 L173.8 391.2Z" fill="#BED2FF"/>
<path d="M171.2 383.8 L175.0 382.5 L180.0 390.0 L185.0 398.8 L187.5 403.8 L183.8 405.0 L178.8 398.8 L173.8 391.2Z" fill="none" stroke="#6E6E6E" stroke-width="0.80" stroke-linejoin="round"/>
<path d="M233.8 463.8 L238.8 463.8 L242.5 467.5 L240.0 470.0 L235.0 468.0Z" fill="#3a66b0"/>
<path d="M233.8 463.8 L238.8 463.8 L242.5 467.5 L240.0 470.0 L235.0 468.0Z" fill="none" stroke="#3a5080" stroke-width="0.80" stroke-linejoin="round"/>
<path d="M270.0 276.2 L273.8 275.0 L276.2 285.0 L272.5 290.0 L269.5 283.8Z" fill="#FFEBAF"/>
<path d="M270.0 276.2 L273.8 275.0 L276.2 285.0 L272.5 290.0 L269.5 283.8Z" fill="none" stroke="#6E6E6E" stroke-width="1.00" stroke-linejoin="round"/>
<path d="M281.2 280.0 L290.0 275.0 L297.5 276.2 L295.0 282.5 L287.5 285.0 L282.5 286.2Z" fill="#b9b08a"/>
<path d="M281.2 280.0 L290.0 275.0 L297.5 276.2 L295.0 282.5 L287.5 285.0 L282.5 286.2Z" fill="none" stroke="#6E6E6E" stroke-width="1.20" stroke-linejoin="round"/>
<path d="M297.5 277.5 L307.5 275.0 L313.8 280.0 L310.0 286.2 L302.5 285.0 L298.8 282.5Z" fill="#D3FFBE"/>
<path d="M297.5 277.5 L307.5 275.0 L313.8 280.0 L310.0 286.2 L302.5 285.0 L298.8 282.5Z" fill="none" stroke="#6E6E6E" stroke-width="1.20" stroke-linejoin="round"/>
<clipPath id="c_batam"><path d="M297.5 295.0 L303.8 292.5 L307.5 300.0 L313.8 307.5 L317.5 315.0 L310.0 317.5 L305.0 320.0 L303.8 327.5 L297.5 327.5 L295.0 321.2 L300.0 315.0 L297.5 307.5Z"/></clipPath>
<path d="M297.5 295.0 L303.8 292.5 L307.5 300.0 L313.8 307.5 L317.5 315.0 L310.0 317.5 L305.0 320.0 L303.8 327.5 L297.5 327.5 L295.0 321.2 L300.0 315.0 L297.5 307.5Z" fill="#9b9b9b"/>
<g clip-path="url(#c_batam)">
<polygon points="297.0,318.0 305.0,319.2 304.2,328.0 296.2,328.0" fill="#D3FFBE"/>
</g>
<path d="M297.5 295.0 L303.8 292.5 L307.5 300.0 L313.8 307.5 L317.5 315.0 L310.0 317.5 L305.0 320.0 L303.8 327.5 L297.5 327.5 L295.0 321.2 L300.0 315.0 L297.5 307.5Z" fill="none" stroke="#6E6E6E" stroke-width="1.00" stroke-linejoin="round"/>
<clipPath id="c_lingga"><path d="M295.0 303.8 L307.5 301.2 L316.2 310.0 L317.5 317.5 L310.0 318.8 L303.8 327.5 L297.5 325.0 L300.0 317.5 L295.0 312.5Z"/></clipPath>
<path d="M295.0 303.8 L307.5 301.2 L316.2 310.0 L317.5 317.5 L310.0 318.8 L303.8 327.5 L297.5 325.0 L300.0 317.5 L295.0 312.5Z" fill="#a3a69e"/>
<g clip-path="url(#c_lingga)">
<polygon points="297.5,317.5 305.0,317.5 304.5,327.5 297.0,325.5" fill="#D3FFBE"/>
</g>
<path d="M295.0 303.8 L307.5 301.2 L316.2 310.0 L317.5 317.5 L310.0 318.8 L303.8 327.5 L297.5 325.0 L300.0 317.5 L295.0 312.5Z" fill="none" stroke="#6E6E6E" stroke-width="1.00" stroke-linejoin="round"/>
<clipPath id="c_bangka"><path d="M322.5 366.2 L326.2 360.0 L331.2 355.5 L337.5 353.0 L345.0 353.0 L348.8 356.2 L351.2 362.5 L353.8 370.0 L357.5 375.0 L363.8 378.0 L370.0 383.8 L372.5 390.0 L371.2 396.2 L366.2 399.5 L361.2 396.2 L356.2 391.2 L350.0 386.2 L343.8 381.2 L338.8 375.0 L332.5 370.0 L326.2 370.0Z"/></clipPath>
<path d="M322.5 366.2 L326.2 360.0 L331.2 355.5 L337.5 353.0 L345.0 353.0 L348.8 356.2 L351.2 362.5 L353.8 370.0 L357.5 375.0 L363.8 378.0 L370.0 383.8 L372.5 390.0 L371.2 396.2 L366.2 399.5 L361.2 396.2 L356.2 391.2 L350.0 386.2 L343.8 381.2 L338.8 375.0 L332.5 370.0 L326.2 370.0Z" fill="#FFEBAF"/>
<g clip-path="url(#c_bangka)">
<polygon points="330.0,355.0 345.0,352.0 350.5,360.0 342.5,365.0 335.0,362.5" fill="#D3FFBE"/>
<polygon points="346.2,371.2 352.5,371.2 353.8,376.2 347.5,376.2" fill="#FFBEBE"/>
</g>
<path d="M322.5 366.2 L326.2 360.0 L331.2 355.5 L337.5 353.0 L345.0 353.0 L348.8 356.2 L351.2 362.5 L353.8 370.0 L357.5 375.0 L363.8 378.0 L370.0 383.8 L372.5 390.0 L371.2 396.2 L366.2 399.5 L361.2 396.2 L356.2 391.2 L350.0 386.2 L343.8 381.2 L338.8 375.0 L332.5 370.0 L326.2 370.0Z" fill="none" stroke="#6E6E6E" stroke-width="0.80" stroke-linejoin="round"/>
<path d="M395.0 386.2 L400.0 383.8 L407.5 383.8 L412.5 388.8 L413.8 396.2 L411.2 402.5 L405.0 401.2 L402.5 403.8 L398.8 400.0 L395.0 398.8 L392.5 392.5Z" fill="#D3FFBE"/>
<path d="M395.0 386.2 L400.0 383.8 L407.5 383.8 L412.5 388.8 L413.8 396.2 L411.2 402.5 L405.0 401.2 L402.5 403.8 L398.8 400.0 L395.0 398.8 L392.5 392.5Z" fill="none" stroke="#6E6E6E" stroke-width="0.80" stroke-linejoin="round"/>
<path d="M427.5 353.8 L433.8 353.0 L432.5 358.0 L427.0 358.8Z" fill="#FFFFFF"/>
<path d="M427.5 353.8 L433.8 353.0 L432.5 358.0 L427.0 358.8Z" fill="none" stroke="#6E6E6E" stroke-width="1.00" stroke-linejoin="round"/>
<path d="M405.0 191.2 L411.2 186.2 L416.2 190.0 L417.5 196.2 L412.5 201.2 L407.5 203.8 L403.8 197.5Z" fill="#FFBEBE"/>
<path d="M405.0 191.2 L411.2 186.2 L416.2 190.0 L417.5 196.2 L412.5 201.2 L407.5 203.8 L403.8 197.5Z" fill="none" stroke="#6E6E6E" stroke-width="0.80" stroke-linejoin="round"/>
<path d="M337.5 218.8 L342.5 218.8 L341.2 226.2 L337.5 225.0Z" fill="#999"/>
<path d="M337.5 218.8 L342.5 218.8 L341.2 226.2 L337.5 225.0Z" fill="none" stroke="#6E6E6E" stroke-width="0.80" stroke-linejoin="round"/>
<path d="M352.5 211.2 L360.0 210.0 L361.2 218.8 L355.0 220.0Z" fill="#999"/>
<path d="M352.5 211.2 L360.0 210.0 L361.2 218.8 L355.0 220.0Z" fill="none" stroke="#6E6E6E" stroke-width="0.80" stroke-linejoin="round"/>
<path d="M428.8 220.0 L432.5 220.0 L432.5 230.0 L428.8 230.0Z" fill="#aaa"/>
<path d="M428.8 220.0 L432.5 220.0 L432.5 230.0 L428.8 230.0Z" fill="none" stroke="#6E6E6E" stroke-width="0.80" stroke-linejoin="round"/>
<path d="M388.8 277.5 L393.8 277.5 L393.8 282.5 L388.8 282.5Z" fill="#aaa"/>
<path d="M388.8 277.5 L393.8 277.5 L393.8 282.5 L388.8 282.5Z" fill="none" stroke="#6E6E6E" stroke-width="0.80" stroke-linejoin="round"/>
<clipPath id="c_laut"><path d="M640.0 410.0 L642.5 405.0 L646.2 403.8 L650.0 410.0 L648.8 420.0 L645.0 427.5 L641.2 427.5 L640.0 420.0Z"/></clipPath>
<path d="M640.0 410.0 L642.5 405.0 L646.2 403.8 L650.0 410.0 L648.8 420.0 L645.0 427.5 L641.2 427.5 L640.0 420.0Z" fill="#FFEBAF"/>
<g clip-path="url(#c_laut)">
<polygon points="641.2,407.5 648.8,407.5 647.5,417.5 641.2,417.5" fill="#D3FFBE"/>
</g>
<path d="M640.0 410.0 L642.5 405.0 L646.2 403.8 L650.0 410.0 L648.8 420.0 L645.0 427.5 L641.2 427.5 L640.0 420.0Z" fill="none" stroke="#6E6E6E" stroke-width="0.80" stroke-linejoin="round"/>
<path d="M673.8 202.5 L682.5 200.5 L688.8 206.2 L685.0 213.0 L679.5 214.5 L676.2 208.0Z" fill="#b4bcae"/>
<path d="M673.8 202.5 L682.5 200.5 L688.8 206.2 L685.0 213.0 L679.5 214.5 L676.2 208.0Z" fill="none" stroke="#6E6E6E" stroke-width="1.10" stroke-linejoin="round"/>
<clipPath id="c_talaud"><path d="M952.5 176.2 L956.2 176.2 L957.0 185.0 L955.5 195.0 L952.5 200.0 L950.0 192.5 L951.2 183.8Z"/></clipPath>
<path d="M952.5 176.2 L956.2 176.2 L957.0 185.0 L955.5 195.0 L952.5 200.0 L950.0 192.5 L951.2 183.8Z" fill="#D3FFBE"/>
<g clip-path="url(#c_talaud)">
<polygon points="950.0,187.5 957.5,187.5 956.2,201.2 950.0,200.0" fill="#BED2FF"/>
</g>
<path d="M952.5 176.2 L956.2 176.2 L957.0 185.0 L955.5 195.0 L952.5 200.0 L950.0 192.5 L951.2 183.8Z" fill="none" stroke="#6E6E6E" stroke-width="0.80" stroke-linejoin="round"/>
<path d="M913.8 200.0 L918.8 201.2 L922.5 207.5 L920.0 211.2 L915.5 206.2Z" fill="#3a66b0"/>
<path d="M913.8 200.0 L918.8 201.2 L922.5 207.5 L920.0 211.2 L915.5 206.2Z" fill="none" stroke="#3a5080" stroke-width="0.80" stroke-linejoin="round"/>
<path d="M912.5 227.5 L916.2 227.5 L916.2 231.2 L912.5 231.2Z" fill="#3a66b0"/>
<path d="M912.5 227.5 L916.2 227.5 L916.2 231.2 L912.5 231.2Z" fill="none" stroke="#3a5080" stroke-width="0.80" stroke-linejoin="round"/>
<path d="M772.5 513.8 L778.8 513.8 L778.8 517.5 L773.0 517.5Z" fill="#c03030"/>
<path d="M772.5 513.8 L778.8 513.8 L778.8 517.5 L773.0 517.5Z" fill="none" stroke="#7a3030" stroke-width="0.80" stroke-linejoin="round"/>
<path d="M780.0 521.2 L790.0 522.5 L789.5 524.5 L780.0 523.2Z" fill="#6E6E6E"/>
<path d="M780.0 521.2 L790.0 522.5 L789.5 524.5 L780.0 523.2Z" fill="none" stroke="#6E6E6E" stroke-width="0.80" stroke-linejoin="round"/>
<path d="M807.0 520.0 L809.0 520.0 L809.0 527.5 L807.0 527.5Z" fill="#c03030"/>
<path d="M807.0 520.0 L809.0 520.0 L809.0 527.5 L807.0 527.5Z" fill="none" stroke="#7a3030" stroke-width="0.80" stroke-linejoin="round"/>
<path d="M342.5 237.5 L345.0 237.5 L345.0 240.0 L342.5 240.0Z" fill="#FFBEBE"/>
<path d="M342.5 237.5 L345.0 237.5 L345.0 240.0 L342.5 240.0Z" fill="none" stroke="#6E6E6E" stroke-width="0.50" stroke-linejoin="round"/>
</g></g>

<!-- 30_grat.svg -->
<g id="graticule" stroke="#000" stroke-width="1.8">
<line x1="755.9" y1="83" x2="755.9" y2="88.5"/>
<line x1="755.9" y1="643" x2="755.9" y2="650.5"/>
<line x1="20.8" y1="308.8" x2="26" y2="308.8"/>
<line x1="1356" y1="308.8" x2="1361.8" y2="308.8"/>
<path d="M751.5,308.8H761 M756.2,304V313.5" stroke-width="0.7" fill="none"/>
</g>
<g id="gratlabels">
<text x="755" y="80.9" text-anchor="middle" textLength="28.5" lengthAdjust="spacing" style="font-size:5.6px;fill:#4a4a4a">120°0'0"E</text>
<text x="755" y="655.8" text-anchor="middle" textLength="28.5" lengthAdjust="spacing" style="font-size:5.6px;fill:#4a4a4a">120°0'0"E</text>
<text transform="translate(17.3,308.8) rotate(-90)" text-anchor="middle" textLength="18" lengthAdjust="spacing" style="font-size:5.6px;fill:#4a4a4a">0°0'0"</text>
<text transform="translate(1368.6,308.8) rotate(-90)" text-anchor="middle" textLength="18" lengthAdjust="spacing" style="font-size:5.6px;fill:#4a4a4a">0°0'0"</text>
</g>

<!-- 40_inset.svg -->
<g id="inset">
<clipPath id="insclip"><rect x="342" y="672" width="693" height="287"/></clipPath>
<filter id="b3" x="-5%" y="-5%" width="110%" height="110%"><feGaussianBlur stdDeviation="3"/></filter>
<filter id="b1" x="-5%" y="-5%" width="110%" height="110%"><feGaussianBlur stdDeviation="0.8"/></filter>
<filter id="land" x="-5%" y="-5%" width="110%" height="110%"><feGaussianBlur in="SourceGraphic" stdDeviation="0.7" result="g"/><feTurbulence type="fractalNoise" baseFrequency="0.3" numOctaves="2" seed="5" result="n"/><feColorMatrix in="n" type="matrix" values="0 0 0 0 0.12  0 0 0 0 0.17  0 0 0 0 0.06  0 0 0 1.7 -0.62" result="n2"/><feComposite in="n2" in2="g" operator="in" result="n3"/><feMerge><feMergeNode in="g"/><feMergeNode in="n3"/></feMerge></filter>
<filter id="b6" x="-10%" y="-10%" width="120%" height="120%"><feGaussianBlur stdDeviation="7"/></filter>
<filter id="tex" x="0" y="0" width="100%" height="100%"><feTurbulence type="fractalNoise" baseFrequency="0.035" numOctaves="3" seed="7" result="n"/><feColorMatrix in="n" type="matrix" values="0 0 0 0 0.55  0 0 0 0 0.8  0 0 0 0 0.9  0.9 0 0 0 -0.38"/></filter>
<g clip-path="url(#insclip)">
<rect x="342" y="672" width="693" height="287" fill="#0d4659"/>
<g filter="url(#b6)">
<polygon points="346.1,759.0 467.4,743.8 509.9,795.4 522.0,880.3 690.0,886.4 690.0,959.2 346.1,959.2" fill="#093a4d" opacity="0.8"/>
<polygon points="750.7,674.1 902.3,674.1 920.5,728.7 878.0,795.4 817.4,783.3 759.8,759.0" fill="#0a3d50" opacity="0.7"/>
<polygon points="878.0,880.3 1035.2,865.1 1035.2,959.2 920.5,959.2" fill="#09394c" opacity="0.6"/>
<polygon points="859.9,752.9 1035.2,728.7 1035.2,856.0 963.0,837.9 902.3,813.6 865.9,795.4" fill="#1b6176" opacity="0.75"/>
<polygon points="340.0,668.0 367.3,668.0 382.5,728.7 403.7,749.9 361.2,771.1 352.1,868.2 340.0,880.3" fill="#28728a" opacity="0.9"/>
<polygon points="467.4,759.0 491.7,752.9 485.6,880.3 473.5,959.2 461.3,959.2 470.4,862.1" fill="#1a5e73" opacity="0.55"/>
<polygon points="631.2,698.3 690.0,686.2 690.0,737.8 649.4,734.7" fill="#195b70" opacity="0.6"/>
<polygon points="690.0,686.2 750.7,680.1 768.9,759.0 738.5,783.3 690.0,777.2" fill="#195b70" opacity="0.5"/>
<polygon points="528.0,892.4 643.3,886.4 690.0,898.5 690.0,959.2 582.6,959.2" fill="#1b6176" opacity="0.5"/>
<polygon points="690.0,886.4 726.4,892.4 717.3,959.2 690.0,959.2" fill="#1b6176" opacity="0.6"/>
</g>
<g filter="url(#b3)">
<polygon points="552.3,704.4 570.5,705.9 585.7,719.6 594.8,733.2 614.5,724.1 628.1,739.3 646.3,759.0 667.6,756.0 682.7,743.8 690.0,743.8 690.0,759.0 613.0,759.0 567.5,746.9 556.9,728.7" fill="#2c7c93"/>
<polygon points="525.0,750.0 555.0,745.0 590.0,745.0 620.0,745.0 645.0,750.0 665.0,762.5 655.0,772.5 635.0,783.8 622.5,788.8 625.0,805.0 635.0,817.5 655.0,820.0 665.0,827.5 680.0,820.0 690.0,810.0 695.0,825.0 701.2,840.0 690.0,847.5 675.0,855.0 655.0,852.5 625.0,846.2 600.0,841.2 602.5,815.0 590.0,795.0 572.5,783.8 542.5,767.5 524.5,757.5" fill="#2c7c93"/>
<polygon points="520.0,772.5 530.0,785.0 545.0,807.5 565.0,827.5 587.5,845.0 615.0,857.5 645.0,865.0 675.0,870.0 705.0,875.0 740.0,870.0 740.0,876.2 705.0,881.2 675.0,880.0 645.0,876.2 615.0,868.8 585.0,856.2 560.0,838.8 540.0,816.2 525.0,793.8 520.0,783.8" fill="#2c7c93" opacity="0.55"/>
<polygon points="785.0,841.2 805.0,831.2 815.0,828.0 835.0,840.0 838.8,847.5 833.8,857.5 850.0,855.0 870.0,865.0 865.0,885.0 765.0,885.0 770.0,860.0" fill="#2c7c93"/>
<polygon points="497.7,701.4 509.9,695.3 522.0,707.4 534.1,728.7 540.2,701.4 537.1,683.2 519.0,680.1 509.9,674.1 525.0,671.6 546.2,671.6 552.3,743.8 558.4,759.0 525.0,756.0 515.9,768.1 537.1,795.4 564.4,825.7 591.7,850.0 613.0,862.1 643.3,871.2 673.6,877.3 690.0,877.3 690.0,865.1 643.3,856.0 606.9,850.0 594.8,837.9 570.5,813.6 552.3,792.4 534.1,771.1 522.0,756.0 509.9,759.0 500.8,734.7" fill="#2c7c93" opacity="0.7"/>
<polygon points="522.0,754.4 552.3,743.8 570.5,768.1 591.7,789.3 597.8,813.6 582.6,795.4 558.4,780.2 537.1,765.1" fill="#2c7c93"/>
<polygon points="690.0,743.8 690.0,862.1 708.2,865.1 726.4,850.0 708.2,837.9 696.1,810.6 702.1,801.5 690.0,789.3" fill="#2c7c93" opacity="0.9"/>
<polygon points="805.3,831.8 832.6,833.3 847.7,856.0 859.9,868.2 872.0,877.3 884.1,862.1 902.3,868.2 920.5,877.3 902.3,886.4 878.0,898.5 872.0,916.7 859.9,928.8 826.5,919.7 820.4,892.4 796.2,884.9 771.9,889.4 738.5,907.6 720.3,934.9 708.2,959.2 690.0,959.2 690.0,898.5 726.4,880.3 765.8,877.3 781.0,865.1 793.1,850.0" fill="#2c7c93"/>
<polygon points="358.2,671.6 431.0,671.6 421.9,689.2 417.3,707.4 428.0,737.8 421.9,756.0 400.7,743.8 385.5,731.7 373.4,701.4" fill="#2c7c93" opacity="0.6"/>
<polygon points="855.3,862.1 872.0,862.1 875.0,880.3 859.9,877.3" fill="#3a8ba2" opacity="0.9"/>
<polygon points="690.0,671.6 723.4,671.6 747.6,713.5 755.2,746.9 741.6,759.0 714.3,743.8 690.0,752.9" fill="#2c7c93" opacity="0.65"/>
<polygon points="698.8,800.0 702.5,795.0 710.0,792.5 720.0,793.0 730.0,791.2 737.5,788.8 741.2,785.0 743.0,788.8 738.8,793.8 730.0,796.2 720.0,797.5 711.2,797.5 706.2,801.2 707.5,806.2 715.0,805.0 722.5,803.8 726.2,806.2 718.8,810.0 712.5,811.2 715.0,817.5 720.0,822.5 722.5,830.0 717.5,831.2 713.8,825.0 710.0,818.8 706.2,815.0 703.8,821.2 703.8,830.0 701.2,836.2 697.5,835.0 696.2,825.0 697.5,815.0 697.0,807.5" fill="#2c7c93" stroke="#2c7c93" stroke-width="7" stroke-linejoin="round" opacity="0.75"/>
<polygon points="758.8,781.2 762.5,778.8 765.0,785.0 763.8,791.2 766.2,797.5 762.5,800.0 760.0,793.8 757.5,787.5" fill="#2c7c93" stroke="#2c7c93" stroke-width="7" stroke-linejoin="round" opacity="0.75"/>
<polygon points="747.5,820.0 756.2,819.5 757.5,823.8 750.0,825.0" fill="#2c7c93" stroke="#2c7c93" stroke-width="7" stroke-linejoin="round" opacity="0.75"/>
<polygon points="762.5,818.8 772.5,818.0 782.5,820.0 783.8,823.8 775.0,824.5 765.0,823.0" fill="#2c7c93" stroke="#2c7c93" stroke-width="7" stroke-linejoin="round" opacity="0.75"/>
<polygon points="786.2,803.8 792.5,800.5 801.2,801.2 806.2,806.2 805.0,811.2 797.5,813.0 790.0,810.0" fill="#2c7c93" stroke="#2c7c93" stroke-width="7" stroke-linejoin="round" opacity="0.75"/>
<polygon points="795.0,816.2 802.5,815.0 808.8,820.0 811.2,825.0 805.0,825.5 798.8,822.5" fill="#2c7c93" stroke="#2c7c93" stroke-width="7" stroke-linejoin="round" opacity="0.75"/>
<polygon points="806.2,836.2 810.0,835.0 812.0,842.5 808.0,846.2 805.5,842.5" fill="#2c7c93" stroke="#2c7c93" stroke-width="7" stroke-linejoin="round" opacity="0.75"/>
<polygon points="783.8,847.5 787.5,846.2 788.8,851.2 785.0,853.8" fill="#2c7c93" stroke="#2c7c93" stroke-width="7" stroke-linejoin="round" opacity="0.75"/>
<polygon points="812.8,822.7 820.4,816.6 829.5,810.6 838.6,809.0 847.7,813.6 856.8,818.1 869.0,822.7 881.1,828.8 891.7,837.9 899.3,845.4 908.4,853.0 916.0,862.1 923.5,872.7 917.5,874.2 906.9,868.2 896.2,862.1 887.1,857.6 878.0,857.6 869.0,862.1 859.9,865.1 853.8,862.1 847.7,856.0 840.1,853.0 835.6,856.0 832.6,850.0 837.1,840.9 832.6,833.3 823.5,828.8 815.9,827.2 806.8,819.7 809.8,815.1" fill="#2c7c93" stroke="#2c7c93" stroke-width="6" stroke-linejoin="round" opacity="0.7"/>
</g>
<rect x="342" y="672" width="693" height="287" filter="url(#tex)" opacity="0.35"/>
<g filter="url(#land)">
<polygon points="362.8,670.5 427.5,670.5 423.7,678.1 416.1,685.8 414.8,698.4 412.3,711.1 407.2,721.3 402.1,730.1 397.1,736.5 392.0,736.5 386.9,727.6 381.8,714.9 376.8,701.0 370.4,687.0 365.4,678.1" fill="#a38659"/>
<polygon points="366.6,679.4 373.0,690.8 378.0,703.5 383.6,717.5 389.5,730.1 394.5,736.0 398.8,732.7 393.3,722.5 388.2,708.6 381.8,694.6 374.2,683.2" fill="#7d8048" opacity="0.85"/>
<polygon points="383.1,675.6 416.1,674.3 412.3,690.8 408.5,708.6 402.1,718.7 397.1,708.6 390.7,693.4" fill="#b09a6c" opacity="0.6"/>
<polygon points="408.5,728.9 416.1,726.8 422.4,732.7 425.0,742.8 422.4,751.7 416.1,754.2 411.0,749.2 408.5,739.0" fill="#6f7a45"/>
<polygon points="515.0,670.5 616.4,670.5 621.5,683.2 625.3,695.9 622.8,708.6 617.7,717.5 608.8,725.1 600.0,731.4 593.6,734.4 589.8,728.9 587.3,720.0 579.7,713.7 572.1,706.0 565.7,701.0 560.6,696.4 558.1,695.9 555.6,706.0 554.3,718.7 556.8,730.1 561.9,741.5 569.5,749.2 577.1,759.3 582.2,769.4 584.7,779.6 587.3,785.9 578.4,784.7 568.3,777.1 560.6,764.4 555.6,751.7 551.8,744.1 548.0,732.7 545.4,721.3 542.9,708.6 541.6,695.9 542.9,683.2 535.3,680.7 526.4,683.2 517.5,679.4" fill="#66763f"/>
<polygon points="550.5,674.3 603.8,673.1 615.2,685.8 616.4,701.0 608.8,713.7 596.2,722.5 588.5,716.2 578.4,708.6 568.3,698.4 558.1,690.8 551.8,683.2" fill="#958c5c" opacity="0.8"/>
<polygon points="517.5,671.8 540.4,671.8 539.1,679.4 527.7,682.7 518.8,678.7" fill="#a59466" opacity="0.9"/>
<polygon points="542.9,671.8 550.5,671.8 553.0,688.3 555.6,703.5 554.3,718.7 558.1,733.9 568.3,749.2 580.9,769.4 586.0,784.7 577.1,774.5 565.7,756.8 555.6,741.5 549.2,726.3 545.9,708.6 544.2,690.8" fill="#4f6a36" opacity="0.8"/>
<polygon points="603.8,671.8 616.4,671.8 622.0,685.8 624.6,698.4 620.2,711.1 613.9,718.7 615.2,706.0 613.9,690.8 608.8,680.7" fill="#4f6a36" opacity="0.7"/>
<polygon points="504.3,698.4 507.4,697.9 509.4,711.1 508.4,723.8 505.9,724.3 504.8,711.1" fill="#3f5c30" opacity="0.9"/>
<polygon points="524.5,757.5 532.5,760.0 542.5,767.5 552.5,775.0 561.2,780.0 572.5,783.8 582.5,788.8 590.0,795.0 591.2,802.5 597.5,807.5 602.5,815.0 600.0,820.0 598.8,827.5 600.0,837.5 595.0,837.5 587.5,832.5 578.8,825.0 571.2,817.5 563.8,808.8 556.2,798.8 548.8,788.8 540.0,777.5 531.2,767.5 525.0,761.2" fill="#48663a" stroke="#a9ab9f" stroke-width="0.5"/>
<polygon points="598.8,842.5 607.5,841.2 615.0,845.0 625.0,847.5 635.0,848.8 645.0,850.0 655.0,852.5 665.0,855.0 675.0,857.5 685.0,858.8 685.0,861.2 675.0,861.2 665.0,860.0 655.0,858.8 645.0,856.2 635.0,855.0 625.0,853.8 615.0,851.2 605.0,848.8 600.0,846.2" fill="#48663a" stroke="#a9ab9f" stroke-width="0.5"/>
<polygon points="687.5,858.8 697.5,858.0 710.0,858.8 722.5,858.0 735.0,857.0 745.0,855.0 746.2,857.5 735.0,860.0 722.5,861.2 710.0,861.2 697.5,860.8 688.0,860.8" fill="#48663a" stroke="#a9ab9f" stroke-width="0.5"/>
<polygon points="697.5,866.2 705.0,865.5 710.0,870.0 705.0,872.5 698.8,870.0" fill="#48663a" stroke="#a9ab9f" stroke-width="0.5"/>
<polygon points="727.5,870.0 735.0,865.0 745.0,860.0 755.0,857.5 756.2,860.0 747.5,865.0 738.8,870.0 730.0,873.8" fill="#48663a" stroke="#a9ab9f" stroke-width="0.5"/>
<polygon points="622.5,788.8 626.2,785.0 635.0,783.8 645.0,777.5 655.0,772.5 665.0,765.0 675.0,756.2 681.2,747.5 687.5,750.0 695.0,758.8 690.0,763.8 687.5,772.5 690.0,781.2 695.0,787.5 690.0,791.2 685.0,797.5 682.5,807.5 677.5,817.5 672.5,825.0 665.0,826.2 661.2,820.0 655.0,818.8 645.0,821.2 637.5,818.8 632.5,812.5 627.5,805.0 625.0,797.5" fill="#48663a" stroke="#a9ab9f" stroke-width="0.5"/>
<polygon points="698.8,800.0 702.5,795.0 710.0,792.5 720.0,793.0 730.0,791.2 737.5,788.8 741.2,785.0 743.0,788.8 738.8,793.8 730.0,796.2 720.0,797.5 711.2,797.5 706.2,801.2 707.5,806.2 715.0,805.0 722.5,803.8 726.2,806.2 718.8,810.0 712.5,811.2 715.0,817.5 720.0,822.5 722.5,830.0 717.5,831.2 713.8,825.0 710.0,818.8 706.2,815.0 703.8,821.2 703.8,830.0 701.2,836.2 697.5,835.0 696.2,825.0 697.5,815.0 697.0,807.5" fill="#48663a" stroke="#a9ab9f" stroke-width="0.5"/>
<polygon points="758.8,781.2 762.5,778.8 765.0,785.0 763.8,791.2 766.2,797.5 762.5,800.0 760.0,793.8 757.5,787.5" fill="#48663a" stroke="#a9ab9f" stroke-width="0.5"/>
<polygon points="747.5,820.0 756.2,819.5 757.5,823.8 750.0,825.0" fill="#48663a" stroke="#a9ab9f" stroke-width="0.5"/>
<polygon points="762.5,818.8 772.5,818.0 782.5,820.0 783.8,823.8 775.0,824.5 765.0,823.0" fill="#48663a" stroke="#a9ab9f" stroke-width="0.5"/>
<polygon points="786.2,803.8 792.5,800.5 801.2,801.2 806.2,806.2 805.0,811.2 797.5,813.0 790.0,810.0" fill="#48663a" stroke="#a9ab9f" stroke-width="0.5"/>
<polygon points="795.0,816.2 802.5,815.0 808.8,820.0 811.2,825.0 805.0,825.5 798.8,822.5" fill="#48663a" stroke="#a9ab9f" stroke-width="0.5"/>
<polygon points="806.2,836.2 810.0,835.0 812.0,842.5 808.0,846.2 805.5,842.5" fill="#48663a" stroke="#a9ab9f" stroke-width="0.5"/>
<polygon points="783.8,847.5 787.5,846.2 788.8,851.2 785.0,853.8" fill="#48663a" stroke="#a9ab9f" stroke-width="0.5"/>
<polygon points="601.2,810.0 605.5,811.2 607.0,816.2 603.0,815.5" fill="#48663a" stroke="#a9ab9f" stroke-width="0.5"/>
<polygon points="611.2,816.2 615.0,815.5 615.5,818.8 612.0,819.5" fill="#48663a" stroke="#a9ab9f" stroke-width="0.5"/>
<polygon points="703.9,673.1 716.6,671.0 719.2,679.4 714.1,687.0 707.8,685.8 705.2,679.4" fill="#6f8040" opacity="0.9"/>
<polygon points="711.6,690.8 717.9,693.4 720.9,701.0 715.4,702.7" fill="#6f8040" opacity="0.9"/>
<polygon points="692.5,683.2 700.1,678.1 702.7,688.3 696.3,695.9" fill="#6f8040" opacity="0.8"/>
<polygon points="717.9,713.7 728.0,711.1 738.2,716.2 744.5,726.3 748.3,736.5 747.1,749.2 740.7,752.2 736.9,744.1 733.1,736.5 725.5,731.4 720.4,723.8" fill="#6f8040" opacity="0.95"/>
<polygon points="690.0,754.2 695.1,751.7 697.6,759.3 691.3,764.4" fill="#6f8040" opacity="0.8"/>
<polygon points="687.5,670.5 697.6,670.5 695.1,678.1 688.7,680.7" fill="#6f8040" opacity="0.8"/>
<polygon points="812.8,822.7 820.4,816.6 829.5,810.6 838.6,809.0 847.7,813.6 856.8,818.1 869.0,822.7 881.1,828.8 891.7,837.9 899.3,845.4 908.4,853.0 916.0,862.1 923.5,872.7 917.5,874.2 906.9,868.2 896.2,862.1 887.1,857.6 878.0,857.6 869.0,862.1 859.9,865.1 853.8,862.1 847.7,856.0 840.1,853.0 835.6,856.0 832.6,850.0 837.1,840.9 832.6,833.3 823.5,828.8 815.9,827.2 806.8,819.7 809.8,815.1" fill="#3b592d"/>
<polygon points="832.6,819.7 853.8,822.7 878.0,833.3 896.2,847.0 914.4,865.1 902.3,857.6 884.1,847.0 859.9,836.3 838.6,828.8" fill="#5a6a35" opacity="0.8"/>
<polygon points="912.9,839.4 925.1,833.3 935.7,828.8 940.2,831.8 929.6,837.9 917.5,842.4" fill="#466a3e" opacity="0.8"/>
<polygon points="956.9,845.4 972.1,850.0 990.3,862.1 996.3,869.7 988.8,868.2 972.1,857.6 958.4,850.0" fill="#3f6a55" opacity="0.6"/>
<polygon points="715.8,962.2 720.3,941.0 729.4,925.8 740.0,910.6 749.1,901.5 759.8,894.0 771.9,889.4 784.0,886.4 796.2,884.9 808.3,886.4 820.4,890.9 825.0,898.5 820.4,907.6 826.5,916.7 838.6,922.8 850.8,925.8 855.3,916.7 858.3,901.5 862.9,886.4 867.4,877.3 872.0,886.4 876.5,898.5 882.6,910.6 888.7,925.8 894.7,941.0 902.3,951.6 908.4,962.2" fill="#b08150"/>
<polygon points="744.6,907.6 768.9,892.4 793.1,887.9 811.3,890.9 805.3,904.6 781.0,907.6 759.8,916.7" fill="#a5864d" opacity="0.7"/>
<polygon points="859.9,898.5 867.4,880.3 873.5,898.5 884.1,922.8 872.0,919.7" fill="#8d8a50" opacity="0.6"/>
</g>
</g>
<rect x="521.2" y="742.4" width="331.3" height="139" rx="1" fill="none" stroke="#fa0a0a" stroke-width="5.6"/>
<text x="687.5" y="944.6" style="font-size:9.3px;font-weight:bold;fill:#ececec;stroke:#3a3a3a;stroke-width:1.5px;paint-order:stroke;stroke-linejoin:round" textLength="326" lengthAdjust="spacing">Source: Esri, Maxar, GeoEye, Earthstar Geographics, CNES/Airbus DS, USDA,</text>
<text x="687.5" y="955" style="font-size:9.3px;font-weight:bold;fill:#ececec;stroke:#3a3a3a;stroke-width:1.5px;paint-order:stroke;stroke-linejoin:round" textLength="222" lengthAdjust="spacing">USGS, AeroGRID, IGN, and the GIS User Community</text>
</g>

<!-- 60_legend.svg -->
<g id="legend">
<clipPath id="lgclip"><rect x="40" y="672" width="293" height="287.5"/></clipPath>
<text x="40" y="688.3" id="legendword" style="font-size:20px;font-weight:bold;font-style:italic">Legend</text>
<g fill="#fff">
<rect x="40" y="672.6" width="80" height="1.6"/>
<path d="M44.5,674 l3.2,0 l-2.4,11.2 l-3.2,0z" opacity="0.75"/>
<rect x="53" y="679.5" width="60" height="1.3" opacity="0.9"/>
<rect x="60" y="683.2" width="55" height="1.2" opacity="0.9"/>
<path d="M68,676 l3,0 l-3,14 l-3,0z"/>
<path d="M76.5,676 l2.4,0 l-3,16 l-2.4,0z"/>
<path d="M81,676 l2.6,0 l-3,14 l-2.6,0z"/>
<path d="M86,676 l3.4,0 l-3,14 l-3.4,0z"/>
<path d="M92.5,676 l2.4,0 l-3,14 l-2.4,0z"/>
<path d="M98.5,672 l3.5,0 l-4,18 l-3.5,0z"/>
<path d="M103,672 l3,0 l-4,18 l-3,0z"/>
<rect x="100" y="672.6" width="20" height="5.6"/>
<rect x="104.5" y="678" width="15" height="2.2"/>
<rect x="107" y="684.5" width="12" height="5"/>
<rect x="100" y="685.8" width="4" height="3.5"/>
</g>
<text x="40" y="724.6" font-size="18" font-weight="bold" id="lg1" textLength="199.5" lengthAdjust="spacing">Anomali Curah Hujan</text>
<text x="40" y="752.8" font-size="17.6" font-weight="bold" id="lg2" textLength="152" lengthAdjust="spacing">Keterangan Kelas</text>
<g clip-path="url(#lgclip)">
<rect x="40" y="764.0" width="42.7" height="21.7" fill="#0070FF" stroke="#6e6e6e" stroke-width="0.8"/>
<text class="lg" x="89.6" y="780.0" textLength="97.5" lengthAdjust="spacing">Basah Sedang</text>
<rect x="40" y="793.0" width="42.7" height="21.7" fill="#BED2FF" stroke="#6e6e6e" stroke-width="0.8"/>
<text class="lg" x="89.6" y="809.0" textLength="93.2" lengthAdjust="spacing">Basah Ringan</text>
<rect x="40" y="822.1" width="42.7" height="21.7" fill="#D3FFBE" stroke="#6e6e6e" stroke-width="0.8"/>
<text class="lg" x="89.6" y="838.1" textLength="47.5" lengthAdjust="spacing">Normal</text>
<rect x="40" y="851.1" width="42.7" height="21.7" fill="#FFEBAF" stroke="#6e6e6e" stroke-width="0.8"/>
<text class="lg" x="89.6" y="867.1" textLength="130.4" lengthAdjust="spacing">Kekeringan Sedang</text>
<rect x="40" y="880.2" width="42.7" height="21.7" fill="#FFBEBE" stroke="#6e6e6e" stroke-width="0.8"/>
<text class="lg" x="89.6" y="896.2" textLength="115.2" lengthAdjust="spacing">Kekeringan Berat</text>
<rect x="40" y="909.2" width="42.7" height="21.7" fill="#FF0000" stroke="#6e6e6e" stroke-width="0.8"/>
<text class="lg" x="89.6" y="925.2" textLength="128.4" lengthAdjust="spacing">Kekeringan Ekstrim</text>
<rect x="40" y="938.3" width="42.7" height="21.7" fill="#FFFFFF" stroke="#6e6e6e" stroke-width="0.8"/>
<text class="lg" x="89.6" y="954.3" textLength="134.5" lengthAdjust="spacing">Basah Ekstrem/Laut</text>
</g>
</g>

<!-- 61_info.svg -->
<g id="info">
<text x="1203.3" y="695.7" font-size="11.6" text-anchor="middle" fill="#222" id="info1">Data di Olah Wahana Lingkungan Hidup Indonesia</text>
<text x="1203.3" y="708" font-size="11.6" text-anchor="middle" fill="#222">Tahun 2026</text>
</g>
<g id="scalebar">
<rect x="1119" y="604" width="198.4" height="7.4" fill="#fff" stroke="#000" stroke-width="0.8"/>
<rect x="1119" y="604" width="22.9" height="7.4" fill="#000"/>
<rect x="1162.9" y="604" width="23.1" height="7.4" fill="#000"/>
<rect x="1250.7" y="604" width="66.7" height="7.4" fill="#000"/>
<text class="sb" x="1118.8" y="601.5">0</text>
<text class="sb" x="1152" y="601.5">125</text>
<text class="sb" x="1184.6" y="601.5">250</text>
<text class="sb" x="1250" y="601.5">500</text>
<text class="sb" x="1316.5" y="601.5">750</text>
<text x="1319.5" y="610.3" font-size="11.8">Km</text>
</g>

<!-- 62_compass.svg -->
<g id="compass">
<rect class="fr" x="1262.5" y="111.5" width="73" height="74" fill="#fff"/>
<circle cx="1298.2" cy="146.4" r="20.7" fill="none" stroke="#000" stroke-width="2.3"/>
<circle cx="1298.2" cy="146.4" r="18.2" fill="none" stroke="#000" stroke-width="0.5"/>
<polygon points="1298.2,146.4 1297.1,143.6 1304.1,132.1" fill="#fff" stroke="#777" stroke-width="0.3"/>
<polygon points="1298.2,146.4 1299.3,143.6 1312.5,140.5" fill="#fff" stroke="#777" stroke-width="0.3"/>
<polygon points="1298.2,146.4 1301.0,145.3 1312.5,152.3" fill="#fff" stroke="#777" stroke-width="0.3"/>
<polygon points="1298.2,146.4 1301.0,147.5 1304.1,160.7" fill="#fff" stroke="#777" stroke-width="0.3"/>
<polygon points="1298.2,146.4 1299.3,149.2 1292.3,160.7" fill="#fff" stroke="#777" stroke-width="0.3"/>
<polygon points="1298.2,146.4 1297.1,149.2 1283.9,152.3" fill="#fff" stroke="#777" stroke-width="0.3"/>
<polygon points="1298.2,146.4 1295.4,147.5 1283.9,140.5" fill="#fff" stroke="#777" stroke-width="0.3"/>
<polygon points="1298.2,146.4 1295.4,145.3 1292.3,132.1" fill="#fff" stroke="#777" stroke-width="0.3"/>
<polygon points="1298.2,146.4 1298.2,140.2 1310.4,134.2" fill="#000" stroke="#000" stroke-width="0.35"/>
<polygon points="1298.2,146.4 1304.4,146.4 1310.4,134.2" fill="#fff" stroke="#000" stroke-width="0.35"/>
<polygon points="1298.2,146.4 1304.4,146.4 1310.4,158.6" fill="#000" stroke="#000" stroke-width="0.35"/>
<polygon points="1298.2,146.4 1298.2,152.6 1310.4,158.6" fill="#fff" stroke="#000" stroke-width="0.35"/>
<polygon points="1298.2,146.4 1298.2,152.6 1286.0,158.6" fill="#000" stroke="#000" stroke-width="0.35"/>
<polygon points="1298.2,146.4 1292.0,146.4 1286.0,158.6" fill="#fff" stroke="#000" stroke-width="0.35"/>
<polygon points="1298.2,146.4 1292.0,146.4 1286.0,134.2" fill="#000" stroke="#000" stroke-width="0.35"/>
<polygon points="1298.2,146.4 1298.2,140.2 1286.0,134.2" fill="#fff" stroke="#000" stroke-width="0.35"/>
<polygon points="1298.2,146.4 1293.5,141.7 1298.2,121.8" fill="#fff" stroke="#000" stroke-width="0.4"/>
<polygon points="1298.2,146.4 1302.9,141.7 1298.2,121.8" fill="#000" stroke="#000" stroke-width="0.4"/>
<polygon points="1298.2,146.4 1302.9,141.7 1322.8,146.4" fill="#fff" stroke="#000" stroke-width="0.4"/>
<polygon points="1298.2,146.4 1302.9,151.1 1322.8,146.4" fill="#000" stroke="#000" stroke-width="0.4"/>
<polygon points="1298.2,146.4 1302.9,151.1 1298.2,171.0" fill="#fff" stroke="#000" stroke-width="0.4"/>
<polygon points="1298.2,146.4 1293.5,151.1 1298.2,171.0" fill="#000" stroke="#000" stroke-width="0.4"/>
<polygon points="1298.2,146.4 1293.5,151.1 1273.6,146.4" fill="#fff" stroke="#000" stroke-width="0.4"/>
<polygon points="1298.2,146.4 1293.5,141.7 1273.6,146.4" fill="#000" stroke="#000" stroke-width="0.4"/>
<text class="serif" x="1298.4" y="119.2" text-anchor="middle" style="font-size:10.2px;fill:#222;stroke:#222;stroke-width:0.25px">N</text>
<text class="serif" x="1298.6" y="183.4" text-anchor="middle" style="font-size:10.2px;fill:#222;stroke:#222;stroke-width:0.25px">S</text>
<text class="serif" x="1267.2" y="150.6" text-anchor="middle" style="font-size:10.2px;fill:#222;stroke:#222;stroke-width:0.25px">W</text>
<text class="serif" x="1328.8" y="150.8" text-anchor="middle" style="font-size:10.2px;fill:#222;stroke:#222;stroke-width:0.25px">E</text>
</g>

<!-- 63_logo.svg -->
<g id="logo">
<filter id="brush" x="1070" y="800" width="266" height="140" filterUnits="userSpaceOnUse"><feTurbulence type="fractalNoise" baseFrequency="0.045" numOctaves="2" seed="11" result="t"/><feDisplacementMap in="SourceGraphic" in2="t" scale="9" xChannelSelector="R" yChannelSelector="G" result="d"/><feGaussianBlur in="d" stdDeviation="2.2" result="b"/><feComponentTransfer in="b"><feFuncA type="linear" slope="14" intercept="-6.2"/></feComponentTransfer></filter>
<g filter="url(#brush)"><g transform="translate(1085,0) scale(0.61,1)">
<text id="walhi" x="0 97.5 178.7 228.9 314.8" y="916 924 902 912 908" rotate="0 3 0 0 0" style="font-size:112px;font-weight:bold;fill:#000;stroke:#000;stroke-width:1.5px;stroke-linejoin:round;stroke-linecap:round;paint-order:stroke">WALHI</text>
</g></g>
<path d="M1292.8,826 C1294,820 1303,813 1312,812 C1316,811.5 1320,811 1320.3,811.6 C1318,814 1311,817 1305,821 C1300,824.5 1296,826.5 1292.8,826Z" fill="#22a650"/>
<path d="M1161,901.5 C1162,894 1167,886 1173,882.5 C1175,884 1176,888 1175,891 C1171,895 1166,899 1161,901.5Z" fill="#22a650"/>
<text id="walhisub" x="1085" y="944.2" style="font-size:15.8px;fill:#111;stroke:#111;stroke-width:0.25px" textLength="235.5" lengthAdjust="spacingAndGlyphs">Wahana Lingkungan Hidup Indonesia</text>
</g>
</svg>
</body>
</html>
